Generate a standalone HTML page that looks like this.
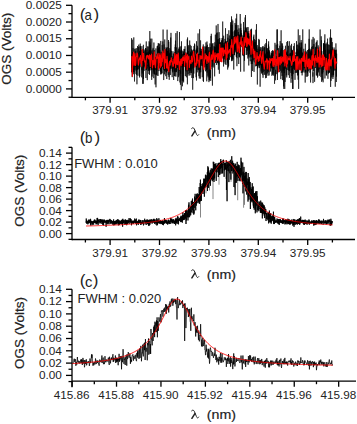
<!DOCTYPE html>
<html><head><meta charset="utf-8"><style>
html,body{margin:0;padding:0;background:#fff;width:357px;height:424px;overflow:hidden;}
svg{display:block;}
</style></head><body>
<svg width="357" height="424" viewBox="0 0 357 424" font-family='"Liberation Sans", sans-serif' fill="#222"><line x1="72.00" y1="5.30" x2="72.00" y2="97.95" stroke="#000" stroke-width="1.3"/>
<line x1="66.00" y1="88.90" x2="72.00" y2="88.90" stroke="#000" stroke-width="1.3"/>
<line x1="66.00" y1="72.18" x2="72.00" y2="72.18" stroke="#000" stroke-width="1.3"/>
<line x1="66.00" y1="55.46" x2="72.00" y2="55.46" stroke="#000" stroke-width="1.3"/>
<line x1="66.00" y1="38.74" x2="72.00" y2="38.74" stroke="#000" stroke-width="1.3"/>
<line x1="66.00" y1="22.02" x2="72.00" y2="22.02" stroke="#000" stroke-width="1.3"/>
<line x1="66.00" y1="5.30" x2="72.00" y2="5.30" stroke="#000" stroke-width="1.3"/>
<line x1="68.50" y1="80.54" x2="72.00" y2="80.54" stroke="#000" stroke-width="1.3"/>
<line x1="68.50" y1="63.82" x2="72.00" y2="63.82" stroke="#000" stroke-width="1.3"/>
<line x1="68.50" y1="47.10" x2="72.00" y2="47.10" stroke="#000" stroke-width="1.3"/>
<line x1="68.50" y1="30.38" x2="72.00" y2="30.38" stroke="#000" stroke-width="1.3"/>
<line x1="68.50" y1="13.66" x2="72.00" y2="13.66" stroke="#000" stroke-width="1.3"/>
<line x1="68.50" y1="97.26" x2="72.00" y2="97.26" stroke="#000" stroke-width="1.3"/>
<line x1="72.00" y1="97.30" x2="355.00" y2="97.30" stroke="#000" stroke-width="1.3"/>
<line x1="110.10" y1="97.30" x2="110.10" y2="102.80" stroke="#000" stroke-width="1.3"/>
<line x1="159.50" y1="97.30" x2="159.50" y2="102.80" stroke="#000" stroke-width="1.3"/>
<line x1="208.90" y1="97.30" x2="208.90" y2="102.80" stroke="#000" stroke-width="1.3"/>
<line x1="258.30" y1="97.30" x2="258.30" y2="102.80" stroke="#000" stroke-width="1.3"/>
<line x1="307.70" y1="97.30" x2="307.70" y2="102.80" stroke="#000" stroke-width="1.3"/>
<line x1="85.40" y1="97.30" x2="85.40" y2="100.30" stroke="#000" stroke-width="1.3"/>
<line x1="134.80" y1="97.30" x2="134.80" y2="100.30" stroke="#000" stroke-width="1.3"/>
<line x1="184.20" y1="97.30" x2="184.20" y2="100.30" stroke="#000" stroke-width="1.3"/>
<line x1="233.60" y1="97.30" x2="233.60" y2="100.30" stroke="#000" stroke-width="1.3"/>
<line x1="283.00" y1="97.30" x2="283.00" y2="100.30" stroke="#000" stroke-width="1.3"/>
<line x1="332.40" y1="97.30" x2="332.40" y2="100.30" stroke="#000" stroke-width="1.3"/>
<text x="110.10" y="114.30" font-size="11.7" text-anchor="middle" >379.91</text>
<text x="159.50" y="114.30" font-size="11.7" text-anchor="middle" >379.92</text>
<text x="208.90" y="114.30" font-size="11.7" text-anchor="middle" >379.93</text>
<text x="258.30" y="114.30" font-size="11.7" text-anchor="middle" >379.94</text>
<text x="307.70" y="114.30" font-size="11.7" text-anchor="middle" >379.95</text>
<text x="61.90" y="92.50" font-size="11.8" text-anchor="end" >0.0000</text>
<text x="61.90" y="75.78" font-size="11.8" text-anchor="end" >0.0005</text>
<text x="61.90" y="59.06" font-size="11.8" text-anchor="end" >0.0010</text>
<text x="61.90" y="42.34" font-size="11.8" text-anchor="end" >0.0015</text>
<text x="61.90" y="25.62" font-size="11.8" text-anchor="end" >0.0020</text>
<text x="61.90" y="8.90" font-size="11.8" text-anchor="end" >0.0025</text>
<line x1="72.00" y1="147.35" x2="72.00" y2="240.15" stroke="#000" stroke-width="1.3"/>
<line x1="66.00" y1="233.60" x2="72.00" y2="233.60" stroke="#000" stroke-width="1.3"/>
<line x1="66.00" y1="222.10" x2="72.00" y2="222.10" stroke="#000" stroke-width="1.3"/>
<line x1="66.00" y1="210.60" x2="72.00" y2="210.60" stroke="#000" stroke-width="1.3"/>
<line x1="66.00" y1="199.10" x2="72.00" y2="199.10" stroke="#000" stroke-width="1.3"/>
<line x1="66.00" y1="187.60" x2="72.00" y2="187.60" stroke="#000" stroke-width="1.3"/>
<line x1="66.00" y1="176.10" x2="72.00" y2="176.10" stroke="#000" stroke-width="1.3"/>
<line x1="66.00" y1="164.60" x2="72.00" y2="164.60" stroke="#000" stroke-width="1.3"/>
<line x1="66.00" y1="153.10" x2="72.00" y2="153.10" stroke="#000" stroke-width="1.3"/>
<line x1="68.50" y1="227.85" x2="72.00" y2="227.85" stroke="#000" stroke-width="1.3"/>
<line x1="68.50" y1="216.35" x2="72.00" y2="216.35" stroke="#000" stroke-width="1.3"/>
<line x1="68.50" y1="204.85" x2="72.00" y2="204.85" stroke="#000" stroke-width="1.3"/>
<line x1="68.50" y1="193.35" x2="72.00" y2="193.35" stroke="#000" stroke-width="1.3"/>
<line x1="68.50" y1="181.85" x2="72.00" y2="181.85" stroke="#000" stroke-width="1.3"/>
<line x1="68.50" y1="170.35" x2="72.00" y2="170.35" stroke="#000" stroke-width="1.3"/>
<line x1="68.50" y1="158.85" x2="72.00" y2="158.85" stroke="#000" stroke-width="1.3"/>
<line x1="68.50" y1="147.35" x2="72.00" y2="147.35" stroke="#000" stroke-width="1.3"/>
<line x1="68.50" y1="239.35" x2="72.00" y2="239.35" stroke="#000" stroke-width="1.3"/>
<line x1="72.00" y1="239.50" x2="355.00" y2="239.50" stroke="#000" stroke-width="1.3"/>
<line x1="110.10" y1="239.50" x2="110.10" y2="245.00" stroke="#000" stroke-width="1.3"/>
<line x1="159.50" y1="239.50" x2="159.50" y2="245.00" stroke="#000" stroke-width="1.3"/>
<line x1="208.90" y1="239.50" x2="208.90" y2="245.00" stroke="#000" stroke-width="1.3"/>
<line x1="258.30" y1="239.50" x2="258.30" y2="245.00" stroke="#000" stroke-width="1.3"/>
<line x1="307.70" y1="239.50" x2="307.70" y2="245.00" stroke="#000" stroke-width="1.3"/>
<line x1="85.40" y1="239.50" x2="85.40" y2="242.50" stroke="#000" stroke-width="1.3"/>
<line x1="134.80" y1="239.50" x2="134.80" y2="242.50" stroke="#000" stroke-width="1.3"/>
<line x1="184.20" y1="239.50" x2="184.20" y2="242.50" stroke="#000" stroke-width="1.3"/>
<line x1="233.60" y1="239.50" x2="233.60" y2="242.50" stroke="#000" stroke-width="1.3"/>
<line x1="283.00" y1="239.50" x2="283.00" y2="242.50" stroke="#000" stroke-width="1.3"/>
<line x1="332.40" y1="239.50" x2="332.40" y2="242.50" stroke="#000" stroke-width="1.3"/>
<text x="110.10" y="256.50" font-size="11.7" text-anchor="middle" >379.91</text>
<text x="159.50" y="256.50" font-size="11.7" text-anchor="middle" >379.92</text>
<text x="208.90" y="256.50" font-size="11.7" text-anchor="middle" >379.93</text>
<text x="258.30" y="256.50" font-size="11.7" text-anchor="middle" >379.94</text>
<text x="307.70" y="256.50" font-size="11.7" text-anchor="middle" >379.95</text>
<text x="61.90" y="237.80" font-size="11.8" text-anchor="end" >0.00</text>
<text x="61.90" y="226.30" font-size="11.8" text-anchor="end" >0.02</text>
<text x="61.90" y="214.80" font-size="11.8" text-anchor="end" >0.04</text>
<text x="61.90" y="203.30" font-size="11.8" text-anchor="end" >0.06</text>
<text x="61.90" y="191.80" font-size="11.8" text-anchor="end" >0.08</text>
<text x="61.90" y="180.30" font-size="11.8" text-anchor="end" >0.10</text>
<text x="61.90" y="168.80" font-size="11.8" text-anchor="end" >0.12</text>
<text x="61.90" y="157.30" font-size="11.8" text-anchor="end" >0.14</text>
<line x1="72.00" y1="289.30" x2="72.00" y2="387.15" stroke="#000" stroke-width="1.3"/>
<line x1="66.00" y1="375.40" x2="72.00" y2="375.40" stroke="#000" stroke-width="1.3"/>
<line x1="66.00" y1="363.10" x2="72.00" y2="363.10" stroke="#000" stroke-width="1.3"/>
<line x1="66.00" y1="350.80" x2="72.00" y2="350.80" stroke="#000" stroke-width="1.3"/>
<line x1="66.00" y1="338.50" x2="72.00" y2="338.50" stroke="#000" stroke-width="1.3"/>
<line x1="66.00" y1="326.20" x2="72.00" y2="326.20" stroke="#000" stroke-width="1.3"/>
<line x1="66.00" y1="313.90" x2="72.00" y2="313.90" stroke="#000" stroke-width="1.3"/>
<line x1="66.00" y1="301.60" x2="72.00" y2="301.60" stroke="#000" stroke-width="1.3"/>
<line x1="66.00" y1="289.30" x2="72.00" y2="289.30" stroke="#000" stroke-width="1.3"/>
<line x1="68.50" y1="369.25" x2="72.00" y2="369.25" stroke="#000" stroke-width="1.3"/>
<line x1="68.50" y1="356.95" x2="72.00" y2="356.95" stroke="#000" stroke-width="1.3"/>
<line x1="68.50" y1="344.65" x2="72.00" y2="344.65" stroke="#000" stroke-width="1.3"/>
<line x1="68.50" y1="332.35" x2="72.00" y2="332.35" stroke="#000" stroke-width="1.3"/>
<line x1="68.50" y1="320.05" x2="72.00" y2="320.05" stroke="#000" stroke-width="1.3"/>
<line x1="68.50" y1="307.75" x2="72.00" y2="307.75" stroke="#000" stroke-width="1.3"/>
<line x1="68.50" y1="295.45" x2="72.00" y2="295.45" stroke="#000" stroke-width="1.3"/>
<line x1="68.50" y1="381.55" x2="72.00" y2="381.55" stroke="#000" stroke-width="1.3"/>
<line x1="72.00" y1="381.20" x2="356.00" y2="381.20" stroke="#000" stroke-width="1.3"/>
<line x1="72.10" y1="381.20" x2="72.10" y2="386.70" stroke="#000" stroke-width="1.3"/>
<line x1="116.53" y1="381.20" x2="116.53" y2="386.70" stroke="#000" stroke-width="1.3"/>
<line x1="160.96" y1="381.20" x2="160.96" y2="386.70" stroke="#000" stroke-width="1.3"/>
<line x1="205.39" y1="381.20" x2="205.39" y2="386.70" stroke="#000" stroke-width="1.3"/>
<line x1="249.82" y1="381.20" x2="249.82" y2="386.70" stroke="#000" stroke-width="1.3"/>
<line x1="294.25" y1="381.20" x2="294.25" y2="386.70" stroke="#000" stroke-width="1.3"/>
<line x1="338.68" y1="381.20" x2="338.68" y2="386.70" stroke="#000" stroke-width="1.3"/>
<line x1="94.31" y1="381.20" x2="94.31" y2="384.20" stroke="#000" stroke-width="1.3"/>
<line x1="138.74" y1="381.20" x2="138.74" y2="384.20" stroke="#000" stroke-width="1.3"/>
<line x1="183.18" y1="381.20" x2="183.18" y2="384.20" stroke="#000" stroke-width="1.3"/>
<line x1="227.60" y1="381.20" x2="227.60" y2="384.20" stroke="#000" stroke-width="1.3"/>
<line x1="272.03" y1="381.20" x2="272.03" y2="384.20" stroke="#000" stroke-width="1.3"/>
<line x1="316.47" y1="381.20" x2="316.47" y2="384.20" stroke="#000" stroke-width="1.3"/>
<text x="71.70" y="398.70" font-size="11.7" text-anchor="middle" >415.86</text>
<text x="116.13" y="398.70" font-size="11.7" text-anchor="middle" >415.88</text>
<text x="160.56" y="398.70" font-size="11.7" text-anchor="middle" >415.90</text>
<text x="204.99" y="398.70" font-size="11.7" text-anchor="middle" >415.92</text>
<text x="249.42" y="398.70" font-size="11.7" text-anchor="middle" >415.94</text>
<text x="293.85" y="398.70" font-size="11.7" text-anchor="middle" >415.96</text>
<text x="338.28" y="398.70" font-size="11.7" text-anchor="middle" >415.98</text>
<text x="61.90" y="379.20" font-size="11.8" text-anchor="end" >0.00</text>
<text x="61.90" y="366.90" font-size="11.8" text-anchor="end" >0.02</text>
<text x="61.90" y="354.60" font-size="11.8" text-anchor="end" >0.04</text>
<text x="61.90" y="342.30" font-size="11.8" text-anchor="end" >0.06</text>
<text x="61.90" y="330.00" font-size="11.8" text-anchor="end" >0.08</text>
<text x="61.90" y="317.70" font-size="11.8" text-anchor="end" >0.10</text>
<text x="61.90" y="305.40" font-size="11.8" text-anchor="end" >0.12</text>
<text x="61.90" y="293.10" font-size="11.8" text-anchor="end" >0.14</text>
<text x="79.80" y="19.80" font-size="17.0" text-anchor="start" >(</text>
<text x="84.60" y="19.90" font-size="14.6" text-anchor="start" textLength="7.4" lengthAdjust="spacingAndGlyphs">a</text>
<text x="93.60" y="19.80" font-size="17.0" text-anchor="start" >)</text>
<text x="79.80" y="143.10" font-size="17.0" text-anchor="start" >(</text>
<text x="85.00" y="143.20" font-size="14.6" text-anchor="start" textLength="7.4" lengthAdjust="spacingAndGlyphs">b</text>
<text x="94.50" y="143.10" font-size="17.0" text-anchor="start" >)</text>
<text x="79.80" y="286.40" font-size="17.0" text-anchor="start" >(</text>
<text x="84.90" y="286.50" font-size="14.6" text-anchor="start" textLength="7.4" lengthAdjust="spacingAndGlyphs">c</text>
<text x="92.80" y="286.40" font-size="17.0" text-anchor="start" >)</text>
<text x="74.20" y="167.90" font-size="12.0" text-anchor="start" textLength="83.6" lengthAdjust="spacingAndGlyphs">FWHM : 0.010</text>
<text x="77.60" y="303.10" font-size="12.0" text-anchor="start" textLength="83.6" lengthAdjust="spacingAndGlyphs">FWHM : 0.020</text>
<g transform="translate(0,0.00)" fill="none" stroke="#222" stroke-linecap="round"><path d="M191.6,128.4 C192.3,127.4 193.6,127.5 194.3,128.9 L196.3,133.8 C196.9,135.5 197.8,136.3 198.7,134.7" stroke-width="1.0"/><path d="M194.9,131.2 L191.9,135.9" stroke-width="1.5"/></g>
<text x="206.80" y="136.90" font-size="13.2" text-anchor="start" stroke="#222" stroke-width="0.18" textLength="29.2" lengthAdjust="spacingAndGlyphs">(nm)</text>
<g transform="translate(0,142.00)" fill="none" stroke="#222" stroke-linecap="round"><path d="M191.6,128.4 C192.3,127.4 193.6,127.5 194.3,128.9 L196.3,133.8 C196.9,135.5 197.8,136.3 198.7,134.7" stroke-width="1.0"/><path d="M194.9,131.2 L191.9,135.9" stroke-width="1.5"/></g>
<text x="206.80" y="278.90" font-size="13.2" text-anchor="start" stroke="#222" stroke-width="0.18" textLength="29.2" lengthAdjust="spacingAndGlyphs">(nm)</text>
<g transform="translate(0,282.40)" fill="none" stroke="#222" stroke-linecap="round"><path d="M191.6,128.4 C192.3,127.4 193.6,127.5 194.3,128.9 L196.3,133.8 C196.9,135.5 197.8,136.3 198.7,134.7" stroke-width="1.0"/><path d="M194.9,131.2 L191.9,135.9" stroke-width="1.5"/></g>
<text x="206.80" y="419.30" font-size="13.2" text-anchor="start" stroke="#222" stroke-width="0.18" textLength="29.2" lengthAdjust="spacingAndGlyphs">(nm)</text>
<text x="0" y="0" font-size="12.6" text-anchor="middle" textLength="72" lengthAdjust="spacingAndGlyphs" stroke="#222" stroke-width="0.2" transform="translate(11.30,48.80) rotate(-90)">OGS (Volts)</text>
<text x="0" y="0" font-size="12.6" text-anchor="middle" textLength="72" lengthAdjust="spacingAndGlyphs" stroke="#222" stroke-width="0.2" transform="translate(23.80,190.70) rotate(-90)">OGS (Volts)</text>
<text x="0" y="0" font-size="12.6" text-anchor="middle" textLength="72" lengthAdjust="spacingAndGlyphs" stroke="#222" stroke-width="0.2" transform="translate(24.20,333.00) rotate(-90)">OGS (Volts)</text>
<polyline points="131.50,72.52 131.58,38.17 131.66,67.71 131.74,62.39 131.82,60.80 131.89,66.58 131.97,72.03 132.05,54.50 132.13,57.00 132.21,77.12 132.29,39.73 132.37,51.72 132.45,66.74 132.53,52.30 132.61,64.20 132.68,60.67 132.76,53.28 132.84,71.07 132.92,55.13 133.00,47.98 133.08,48.65 133.16,62.75 133.24,52.29 133.32,74.24 133.39,61.52 133.47,56.23 133.55,71.82 133.63,60.85 133.71,45.15 133.79,37.38 133.87,53.38 133.95,52.94 134.03,68.48 134.11,70.66 134.18,72.42 134.26,55.43 134.34,53.60 134.42,65.87 134.50,81.51 134.58,57.90 134.66,57.42 134.74,61.28 134.82,49.10 134.89,60.95 134.97,60.72 135.05,69.78 135.13,58.96 135.21,48.43 135.29,59.61 135.37,59.53 135.45,56.37 135.53,57.73 135.61,55.53 135.68,50.81 135.76,54.77 135.84,67.05 135.92,57.53 136.00,74.08 136.08,57.82 136.16,71.11 136.24,60.76 136.32,56.02 136.40,63.75 136.47,58.44 136.55,74.40 136.63,75.05 136.71,48.17 136.79,70.18 136.87,54.49 136.95,84.28 137.03,68.03 137.11,69.67 137.18,60.08 137.26,55.50 137.34,69.41 137.42,61.72 137.50,46.04 137.58,62.90 137.66,67.23 137.74,56.78 137.82,62.09 137.90,72.34 137.97,75.75 138.05,53.03 138.13,65.11 138.21,60.13 138.29,69.39 138.37,48.82 138.45,47.14 138.53,51.61 138.61,61.10 138.68,56.07 138.76,44.66 138.84,51.25 138.92,57.43 139.00,60.68 139.08,63.27 139.16,66.65 139.24,68.54 139.32,57.01 139.40,62.27 139.47,77.49 139.55,61.49 139.63,50.89 139.71,62.53 139.79,76.26 139.87,62.30 139.95,46.49 140.03,58.39 140.11,63.86 140.18,44.07 140.26,43.62 140.34,61.00 140.42,46.00 140.50,56.73 140.58,53.35 140.66,47.51 140.74,53.01 140.82,58.62 140.90,65.82 140.97,67.20 141.05,60.36 141.13,50.07 141.21,54.92 141.29,59.68 141.37,57.91 141.45,59.83 141.53,55.38 141.61,69.91 141.68,77.32 141.76,67.53 141.84,70.13 141.92,46.10 142.00,61.52 142.08,62.34 142.16,73.52 142.24,57.69 142.32,65.56 142.40,50.39 142.47,52.83 142.55,66.89 142.63,56.57 142.71,83.81 142.79,66.00 142.87,49.31 142.95,53.27 143.03,58.62 143.11,60.65 143.19,72.48 143.26,83.79 143.34,58.20 143.42,44.82 143.50,79.02 143.58,54.68 143.66,54.92 143.74,51.88 143.82,67.70 143.90,64.74 143.97,59.75 144.05,69.08 144.13,70.83 144.21,67.82 144.29,60.76 144.37,56.89 144.45,60.36 144.53,59.47 144.61,66.09 144.69,66.41 144.76,50.40 144.84,60.62 144.92,61.58 145.00,52.00 145.08,49.37 145.16,49.08 145.24,56.61 145.32,60.58 145.40,57.63 145.47,58.58 145.55,47.99 145.63,57.60 145.71,54.59 145.79,60.39 145.87,48.22 145.95,77.99 146.03,56.83 146.11,53.58 146.19,70.22 146.26,41.45 146.34,61.45 146.42,61.54 146.50,69.53 146.58,52.51 146.66,56.24 146.74,65.29 146.82,58.18 146.90,54.18 146.97,49.58 147.05,58.27 147.13,68.53 147.21,64.98 147.29,80.13 147.37,66.51 147.45,53.74 147.53,56.10 147.61,61.08 147.69,63.11 147.76,46.37 147.84,55.24 147.92,52.24 148.00,53.27 148.08,65.96 148.16,46.62 148.24,70.91 148.32,70.54 148.40,63.88 148.47,66.49 148.55,64.99 148.63,65.36 148.71,51.57 148.79,59.67 148.87,57.09 148.95,73.95 149.03,67.51 149.11,41.29 149.19,70.61 149.26,49.90 149.34,69.11 149.42,57.54 149.50,74.86 149.58,58.44 149.66,67.97 149.74,62.38 149.82,31.06 149.90,63.41 149.98,42.44 150.05,68.13 150.13,70.37 150.21,59.50 150.29,63.70 150.37,44.88 150.45,52.66 150.53,49.88 150.61,54.66 150.69,38.66 150.76,53.24 150.84,55.53 150.92,67.36 151.00,68.06 151.08,58.55 151.16,51.48 151.24,50.44 151.32,68.36 151.40,55.53 151.48,58.47 151.55,69.87 151.63,55.70 151.71,79.89 151.79,57.86 151.87,38.67 151.95,69.02 152.03,59.99 152.11,76.62 152.19,66.72 152.26,53.58 152.34,69.22 152.42,60.45 152.50,66.33 152.58,63.44 152.66,58.50 152.74,55.94 152.82,49.46 152.90,52.91 152.98,65.07 153.05,47.86 153.13,49.30 153.21,73.71 153.29,54.37 153.37,52.98 153.45,51.76 153.53,55.40 153.61,71.44 153.69,62.49 153.76,78.16 153.84,61.53 153.92,42.52 154.00,54.23 154.08,52.89 154.16,64.63 154.24,68.99 154.32,69.47 154.40,59.09 154.48,74.13 154.55,65.71 154.63,50.21 154.71,74.43 154.79,71.59 154.87,64.60 154.95,61.03 155.03,61.29 155.11,84.45 155.19,58.48 155.26,61.29 155.34,57.09 155.42,69.58 155.50,58.04 155.58,58.25 155.66,65.91 155.74,62.07 155.82,65.01 155.90,48.38 155.98,87.30 156.05,72.76 156.13,75.01 156.21,63.46 156.29,66.07 156.37,63.75 156.45,53.93 156.53,74.37 156.61,67.53 156.69,62.12 156.77,70.63 156.84,56.96 156.92,57.31 157.00,66.36 157.08,75.58 157.16,46.27 157.24,56.09 157.32,56.50 157.40,59.56 157.48,60.25 157.55,45.74 157.63,60.33 157.71,65.68 157.79,54.02 157.87,59.15 157.95,66.91 158.03,75.95 158.11,50.06 158.19,54.71 158.27,43.02 158.34,64.78 158.42,66.66 158.50,56.69 158.58,48.21 158.66,55.01 158.74,56.44 158.82,43.80 158.90,66.67 158.98,71.06 159.05,66.68 159.13,62.96 159.21,56.97 159.29,51.33 159.37,53.16 159.45,46.97 159.53,67.41 159.61,43.65 159.69,67.28 159.77,50.04 159.84,68.38 159.92,54.25 160.00,59.78 160.08,55.73 160.16,53.69 160.24,62.08 160.32,60.81 160.40,58.15 160.48,71.58 160.55,66.59 160.63,74.36 160.71,60.19 160.79,40.92 160.87,47.35 160.95,67.77 161.03,66.40 161.11,51.76 161.19,64.37 161.27,74.24 161.34,69.15 161.42,69.42 161.50,69.14 161.58,54.38 161.66,59.65 161.74,73.20 161.82,64.96 161.90,70.16 161.98,70.77 162.05,73.37 162.13,45.08 162.21,62.95 162.29,55.27 162.37,52.73 162.45,66.96 162.53,55.63 162.61,55.58 162.69,58.35 162.77,41.43 162.84,57.82 162.92,62.28 163.00,54.68 163.08,29.53 163.16,51.66 163.24,64.46 163.32,67.77 163.40,68.40 163.48,66.07 163.56,56.95 163.63,52.96 163.71,80.06 163.79,60.48 163.87,69.93 163.95,54.39 164.03,44.43 164.11,67.10 164.19,64.24 164.27,68.61 164.34,56.94 164.42,74.34 164.50,70.13 164.58,66.30 164.66,49.69 164.74,39.47 164.82,60.19 164.90,71.07 164.98,59.72 165.06,67.93 165.13,56.37 165.21,70.06 165.29,63.59 165.37,60.50 165.45,55.86 165.53,61.06 165.61,49.39 165.69,58.24 165.77,76.17 165.84,52.37 165.92,62.94 166.00,72.06 166.08,47.30 166.16,69.06 166.24,59.79 166.32,66.62 166.40,48.67 166.48,63.60 166.56,58.39 166.63,72.54 166.71,47.97 166.79,79.04 166.87,52.54 166.95,50.77 167.03,49.74 167.11,29.70 167.19,70.65 167.27,56.98 167.34,59.28 167.42,56.83 167.50,50.93 167.58,59.54 167.66,67.59 167.74,61.34 167.82,47.12 167.90,70.76 167.98,59.82 168.06,69.05 168.13,50.88 168.21,74.85 168.29,63.49 168.37,62.69 168.45,59.52 168.53,40.01 168.61,47.02 168.69,69.50 168.77,41.78 168.84,70.93 168.92,76.83 169.00,73.60 169.08,58.80 169.16,55.93 169.24,79.81 169.32,56.80 169.40,62.91 169.48,54.46 169.56,63.95 169.63,52.78 169.71,55.71 169.79,70.81 169.87,48.05 169.95,56.93 170.03,54.29 170.11,49.67 170.19,69.12 170.27,61.39 170.35,74.94 170.42,68.85 170.50,58.35 170.58,57.72 170.66,37.52 170.74,48.63 170.82,60.87 170.90,67.97 170.98,32.87 171.06,42.03 171.13,61.64 171.21,68.80 171.29,64.40 171.37,58.28 171.45,50.89 171.53,52.31 171.61,56.96 171.69,62.90 171.77,57.83 171.85,63.46 171.92,60.15 172.00,61.67 172.08,56.21 172.16,77.15 172.24,66.80 172.32,63.33 172.40,70.63 172.48,62.31 172.56,69.97 172.63,72.37 172.71,63.34 172.79,63.03 172.87,65.82 172.95,51.24 173.03,59.10 173.11,58.05 173.19,58.83 173.27,66.67 173.35,68.55 173.42,53.57 173.50,63.95 173.58,76.28 173.66,80.01 173.74,58.97 173.82,67.31 173.90,61.50 173.98,65.67 174.06,64.46 174.13,62.43 174.21,71.78 174.29,61.10 174.37,52.37 174.45,54.90 174.53,76.08 174.61,72.63 174.69,72.56 174.77,63.13 174.85,53.55 174.92,58.18 175.00,76.24 175.08,60.52 175.16,46.96 175.24,64.91 175.32,44.46 175.40,66.69 175.48,40.64 175.56,40.59 175.63,72.14 175.71,63.86 175.79,56.05 175.87,33.14 175.95,76.61 176.03,56.15 176.11,58.60 176.19,64.75 176.27,68.34 176.35,65.66 176.42,63.73 176.50,72.14 176.58,47.41 176.66,70.75 176.74,64.84 176.82,66.88 176.90,64.72 176.98,59.52 177.06,67.73 177.14,63.20 177.21,31.17 177.29,42.79 177.37,63.67 177.45,53.28 177.53,67.86 177.61,59.21 177.69,73.60 177.77,81.08 177.85,68.73 177.92,50.44 178.00,59.20 178.08,56.45 178.16,59.90 178.24,58.03 178.32,57.58 178.40,54.58 178.48,59.83 178.56,77.17 178.64,68.12 178.71,50.69 178.79,48.98 178.87,56.39 178.95,75.56 179.03,47.57 179.11,58.46 179.19,61.92 179.27,61.11 179.35,64.52 179.42,46.00 179.50,32.03 179.58,70.56 179.66,62.95 179.74,58.67 179.82,50.22 179.90,82.44 179.98,53.23 180.06,46.82 180.14,64.23 180.21,61.78 180.29,50.52 180.37,58.14 180.45,84.75 180.53,71.62 180.61,70.43 180.69,73.80 180.77,61.53 180.85,66.00 180.92,61.13 181.00,55.34 181.08,45.94 181.16,59.61 181.24,90.13 181.32,49.39 181.40,62.54 181.48,41.35 181.56,65.44 181.64,58.88 181.71,62.70 181.79,61.76 181.87,50.42 181.95,67.24 182.03,60.11 182.11,59.63 182.19,64.93 182.27,80.72 182.35,58.52 182.42,86.28 182.50,74.65 182.58,65.57 182.66,57.82 182.74,54.06 182.82,54.35 182.90,56.37 182.98,64.73 183.06,50.98 183.14,66.36 183.21,51.80 183.29,81.04 183.37,69.87 183.45,66.58 183.53,61.58 183.61,82.40 183.69,54.48 183.77,52.94 183.85,54.71 183.93,66.06 184.00,48.90 184.08,66.33 184.16,53.66 184.24,62.07 184.32,61.73 184.40,62.91 184.48,61.75 184.56,51.88 184.64,49.03 184.71,49.13 184.79,53.65 184.87,55.74 184.95,57.62 185.03,46.24 185.11,65.40 185.19,67.07 185.27,60.85 185.35,76.07 185.43,63.61 185.50,62.06 185.58,70.49 185.66,66.57 185.74,55.50 185.82,63.55 185.90,60.88 185.98,52.54 186.06,66.88 186.14,71.49 186.21,61.90 186.29,57.84 186.37,77.30 186.45,55.81 186.53,64.26 186.61,68.85 186.69,69.01 186.77,63.12 186.85,53.12 186.93,56.91 187.00,54.44 187.08,64.66 187.16,47.61 187.24,39.36 187.32,61.62 187.40,84.31 187.48,60.91 187.56,37.46 187.64,61.91 187.71,70.30 187.79,46.57 187.87,66.76 187.95,57.09 188.03,54.73 188.11,74.19 188.19,60.27 188.27,50.98 188.35,64.21 188.43,55.66 188.50,61.54 188.58,52.39 188.66,45.22 188.74,70.88 188.82,63.81 188.90,57.87 188.98,66.80 189.06,75.70 189.14,64.30 189.21,66.01 189.29,66.97 189.37,58.41 189.45,54.23 189.53,54.76 189.61,55.32 189.69,40.49 189.77,73.10 189.85,62.23 189.93,59.56 190.00,56.63 190.08,75.25 190.16,44.84 190.24,68.93 190.32,58.88 190.40,54.76 190.48,51.71 190.56,67.12 190.64,70.57 190.72,57.92 190.79,56.03 190.87,53.20 190.95,61.61 191.03,67.15 191.11,72.71 191.19,45.92 191.27,73.03 191.35,54.99 191.43,58.64 191.50,54.43 191.58,52.75 191.66,49.30 191.74,61.53 191.82,57.56 191.90,78.00 191.98,60.60 192.06,68.88 192.14,62.32 192.22,50.21 192.29,60.03 192.37,51.46 192.45,62.69 192.53,57.45 192.61,68.07 192.69,89.71 192.77,67.11 192.85,63.21 192.93,58.10 193.00,60.85 193.08,63.01 193.16,52.60 193.24,55.40 193.32,67.69 193.40,53.24 193.48,78.08 193.56,63.25 193.64,62.07 193.72,49.44 193.79,65.42 193.87,73.55 193.95,59.20 194.03,46.00 194.11,62.53 194.19,61.55 194.27,62.46 194.35,60.22 194.43,49.33 194.50,43.57 194.58,56.53 194.66,61.52 194.74,44.49 194.82,59.73 194.90,59.31 194.98,66.66 195.06,63.29 195.14,58.44 195.22,63.02 195.29,56.88 195.37,59.70 195.45,55.66 195.53,63.79 195.61,62.20 195.69,58.33 195.77,59.85 195.85,59.56 195.93,50.25 196.00,69.73 196.08,77.28 196.16,54.08 196.24,62.48 196.32,48.63 196.40,61.10 196.48,80.53 196.56,41.26 196.64,56.84 196.72,64.25 196.79,66.84 196.87,50.39 196.95,66.17 197.03,56.89 197.11,50.15 197.19,72.34 197.27,63.35 197.35,56.07 197.43,45.79 197.51,52.14 197.58,64.17 197.66,47.49 197.74,63.31 197.82,61.60 197.90,56.89 197.98,69.69 198.06,33.43 198.14,49.73 198.22,58.23 198.29,65.07 198.37,70.19 198.45,56.88 198.53,54.06 198.61,63.55 198.69,61.77 198.77,55.22 198.85,60.58 198.93,76.18 199.01,54.25 199.08,55.72 199.16,53.67 199.24,66.57 199.32,78.47 199.40,70.84 199.48,57.38 199.56,29.26 199.64,29.25 199.72,57.31 199.79,72.60 199.87,62.84 199.95,56.02 200.03,56.10 200.11,59.06 200.19,48.23 200.27,67.68 200.35,78.68 200.43,67.47 200.51,69.93 200.58,40.39 200.66,61.42 200.74,72.20 200.82,54.41 200.90,51.01 200.98,58.78 201.06,58.06 201.14,50.82 201.22,55.23 201.29,65.78 201.37,54.56 201.45,51.59 201.53,53.67 201.61,52.05 201.69,54.54 201.77,61.67 201.85,60.88 201.93,48.88 202.01,64.39 202.08,49.55 202.16,48.95 202.24,77.21 202.32,60.13 202.40,66.04 202.48,65.01 202.56,58.22 202.64,60.94 202.72,54.55 202.79,56.65 202.87,56.21 202.95,66.22 203.03,62.43 203.11,46.70 203.19,80.93 203.27,44.42 203.35,64.22 203.43,49.07 203.51,81.88 203.58,62.94 203.66,51.91 203.74,56.65 203.82,50.42 203.90,66.85 203.98,64.09 204.06,64.89 204.14,54.78 204.22,55.16 204.30,60.23 204.37,61.44 204.45,61.67 204.53,58.35 204.61,67.34 204.69,59.57 204.77,60.31 204.85,63.74 204.93,63.98 205.01,46.17 205.08,64.34 205.16,55.40 205.24,47.07 205.32,52.51 205.40,58.75 205.48,50.10 205.56,71.29 205.64,69.58 205.72,62.31 205.80,60.76 205.87,59.66 205.95,42.46 206.03,44.11 206.11,59.10 206.19,56.54 206.27,66.62 206.35,55.94 206.43,70.37 206.51,46.51 206.58,63.18 206.66,53.80 206.74,81.33 206.82,46.51 206.90,53.27 206.98,41.53 207.06,57.96 207.14,72.62 207.22,65.33 207.30,69.41 207.37,44.75 207.45,63.89 207.53,64.98 207.61,53.24 207.69,56.08 207.77,54.09 207.85,62.72 207.93,75.71 208.01,70.14 208.08,77.39 208.16,47.14 208.24,50.34 208.32,61.49 208.40,52.79 208.48,52.34 208.56,52.64 208.64,53.52 208.72,50.44 208.80,57.39 208.87,77.39 208.95,82.13 209.03,47.04 209.11,52.82 209.19,79.86 209.27,56.46 209.35,65.59 209.43,67.45 209.51,80.55 209.58,51.17 209.66,58.60 209.74,50.73 209.82,48.34 209.90,46.58 209.98,43.42 210.06,55.20 210.14,55.83 210.22,63.26 210.30,53.07 210.37,59.73 210.45,78.10 210.53,47.14 210.61,51.35 210.69,80.92 210.77,73.76 210.85,59.41 210.93,69.17 211.01,35.97 211.09,55.80 211.16,52.38 211.24,49.13 211.32,33.79 211.40,59.65 211.48,51.74 211.56,54.96 211.64,50.15 211.72,52.25 211.80,44.63 211.87,52.35 211.95,61.21 212.03,54.74 212.11,66.90 212.19,51.19 212.27,43.69 212.35,62.17 212.43,85.62 212.51,57.52 212.59,61.22 212.66,56.78 212.74,61.92 212.82,56.03 212.90,65.59 212.98,43.06 213.06,58.61 213.14,52.10 213.22,49.91 213.30,57.87 213.37,52.54 213.45,58.64 213.53,60.36 213.61,58.37 213.69,52.11 213.77,67.45 213.85,64.26 213.93,63.32 214.01,61.22 214.09,46.11 214.16,56.48 214.24,58.85 214.32,54.88 214.40,46.83 214.48,62.62 214.56,47.09 214.64,76.36 214.72,63.71 214.80,43.02 214.87,42.28 214.95,54.13 215.03,59.49 215.11,48.52 215.19,62.56 215.27,42.12 215.35,34.61 215.43,48.83 215.51,62.87 215.59,46.96 215.66,57.59 215.74,57.41 215.82,59.01 215.90,56.32 215.98,50.87 216.06,47.80 216.14,47.74 216.22,25.44 216.30,58.02 216.37,44.86 216.45,60.72 216.53,56.58 216.61,64.99 216.69,33.10 216.77,49.64 216.85,53.55 216.93,55.67 217.01,46.54 217.09,58.90 217.16,51.01 217.24,32.46 217.32,55.66 217.40,59.82 217.48,63.16 217.56,39.40 217.64,53.64 217.72,60.76 217.80,61.42 217.88,53.84 217.95,62.81 218.03,23.96 218.11,56.65 218.19,55.50 218.27,54.71 218.35,69.70 218.43,66.50 218.51,56.95 218.59,53.97 218.66,64.53 218.74,38.86 218.82,49.64 218.90,42.30 218.98,43.31 219.06,55.47 219.14,32.18 219.22,52.35 219.30,69.86 219.38,73.75 219.45,53.28 219.53,45.65 219.61,52.60 219.69,38.03 219.77,55.75 219.85,48.17 219.93,46.64 220.01,62.01 220.09,50.30 220.16,49.75 220.24,43.34 220.32,42.29 220.40,44.22 220.48,59.42 220.56,46.34 220.64,43.35 220.72,52.36 220.80,46.09 220.88,45.88 220.95,42.24 221.03,51.85 221.11,48.33 221.19,50.73 221.27,51.83 221.35,57.73 221.43,55.25 221.51,62.07 221.59,53.98 221.66,46.24 221.74,40.78 221.82,45.64 221.90,53.44 221.98,39.97 222.06,56.01 222.14,38.04 222.22,44.08 222.30,58.40 222.38,58.00 222.45,38.22 222.53,50.51 222.61,49.37 222.69,21.54 222.77,46.71 222.85,50.54 222.93,45.14 223.01,56.71 223.09,52.96 223.16,43.02 223.24,58.44 223.32,51.18 223.40,52.86 223.48,50.26 223.56,66.50 223.64,35.71 223.72,51.81 223.80,46.24 223.88,59.96 223.95,62.27 224.03,50.64 224.11,53.63 224.19,45.13 224.27,58.75 224.35,59.24 224.43,47.74 224.51,44.51 224.59,42.53 224.67,50.76 224.74,48.17 224.82,57.31 224.90,38.92 224.98,40.41 225.06,40.64 225.14,64.16 225.22,42.54 225.30,56.49 225.38,40.90 225.45,46.33 225.53,28.19 225.61,51.63 225.69,52.91 225.77,58.65 225.85,60.15 225.93,44.78 226.01,64.95 226.09,43.92 226.17,53.01 226.24,54.59 226.32,41.29 226.40,42.12 226.48,58.14 226.56,50.98 226.64,49.55 226.72,43.65 226.80,55.77 226.88,52.97 226.95,50.30 227.03,43.26 227.11,41.47 227.19,53.87 227.27,33.91 227.35,41.24 227.43,55.96 227.51,62.46 227.59,53.28 227.67,69.56 227.74,47.29 227.82,44.00 227.90,37.77 227.98,39.65 228.06,63.55 228.14,51.12 228.22,42.56 228.30,67.41 228.38,55.66 228.45,43.07 228.53,47.97 228.61,65.83 228.69,52.73 228.77,48.12 228.85,30.22 228.93,52.02 229.01,56.04 229.09,45.99 229.17,45.16 229.24,43.08 229.32,35.46 229.40,48.49 229.48,59.78 229.56,47.46 229.64,47.62 229.72,39.32 229.80,40.38 229.88,54.00 229.95,40.90 230.03,38.84 230.11,49.11 230.19,39.21 230.27,45.94 230.35,43.77 230.43,48.57 230.51,40.27 230.59,22.25 230.67,45.17 230.74,57.19 230.82,49.06 230.90,52.06 230.98,40.86 231.06,48.13 231.14,24.85 231.22,40.35 231.30,30.64 231.38,52.87 231.46,49.87 231.53,16.37 231.61,61.16 231.69,45.33 231.77,59.97 231.85,19.30 231.93,58.72 232.01,51.20 232.09,47.90 232.17,60.97 232.24,24.83 232.32,47.70 232.40,31.89 232.48,57.77 232.56,58.85 232.64,41.89 232.72,44.40 232.80,20.63 232.88,55.14 232.96,59.51 233.03,57.75 233.11,43.22 233.19,40.92 233.27,52.27 233.35,48.78 233.43,40.97 233.51,36.21 233.59,50.82 233.67,42.97 233.74,69.60 233.82,53.97 233.90,41.79 233.98,45.58 234.06,47.05 234.14,31.39 234.22,47.88 234.30,54.84 234.38,43.46 234.46,43.45 234.53,55.17 234.61,36.46 234.69,30.31 234.77,50.23 234.85,52.65 234.93,45.74 235.01,22.98 235.09,49.85 235.17,51.26 235.24,50.01 235.32,42.74 235.40,42.93 235.48,46.24 235.56,34.26 235.64,25.11 235.72,49.67 235.80,35.56 235.88,42.21 235.96,18.44 236.03,52.15 236.11,47.46 236.19,24.70 236.27,56.80 236.35,46.19 236.43,38.12 236.51,56.88 236.59,43.15 236.67,13.82 236.74,49.40 236.82,51.98 236.90,66.18 236.98,45.05 237.06,58.24 237.14,39.20 237.22,29.70 237.30,39.13 237.38,50.85 237.46,38.24 237.53,48.00 237.61,53.70 237.69,52.21 237.77,41.73 237.85,46.97 237.93,39.18 238.01,25.07 238.09,38.37 238.17,37.11 238.25,49.46 238.32,32.05 238.40,40.54 238.48,34.80 238.56,50.34 238.64,41.51 238.72,63.99 238.80,46.62 238.88,50.83 238.96,52.22 239.03,28.36 239.11,56.79 239.19,45.77 239.27,44.63 239.35,38.76 239.43,34.58 239.51,57.30 239.59,48.04 239.67,49.44 239.75,37.23 239.82,35.13 239.90,46.83 239.98,47.97 240.06,52.05 240.14,40.04 240.22,14.02 240.30,39.90 240.38,49.29 240.46,50.41 240.53,49.35 240.61,71.68 240.69,28.04 240.77,42.48 240.85,45.98 240.93,23.63 241.01,41.14 241.09,30.15 241.17,40.68 241.25,33.44 241.32,42.38 241.40,46.20 241.48,39.41 241.56,36.74 241.64,33.48 241.72,41.20 241.80,45.11 241.88,46.15 241.96,40.22 242.03,47.14 242.11,45.73 242.19,38.16 242.27,37.76 242.35,38.46 242.43,49.34 242.51,55.38 242.59,37.95 242.67,41.81 242.75,46.10 242.82,40.99 242.90,35.40 242.98,44.53 243.06,39.30 243.14,51.26 243.22,44.67 243.30,49.98 243.38,55.33 243.46,38.96 243.53,22.02 243.61,43.28 243.69,35.97 243.77,39.26 243.85,56.20 243.93,40.63 244.01,71.54 244.09,50.43 244.17,30.27 244.25,41.34 244.32,32.49 244.40,52.26 244.48,60.81 244.56,49.25 244.64,31.58 244.72,34.70 244.80,33.41 244.88,44.00 244.96,43.50 245.04,44.47 245.11,17.49 245.19,41.13 245.27,27.34 245.35,44.25 245.43,18.65 245.51,15.00 245.59,47.10 245.67,39.64 245.75,47.72 245.82,46.32 245.90,44.17 245.98,47.49 246.06,29.30 246.14,32.97 246.22,55.03 246.30,27.96 246.38,43.43 246.46,43.20 246.54,44.41 246.61,35.39 246.69,36.84 246.77,47.63 246.85,42.66 246.93,54.54 247.01,27.04 247.09,50.65 247.17,51.01 247.25,49.57 247.32,40.74 247.40,36.90 247.48,46.57 247.56,42.85 247.64,46.54 247.72,32.42 247.80,41.71 247.88,58.53 247.96,30.98 248.04,40.96 248.11,27.17 248.19,49.35 248.27,48.41 248.35,45.68 248.43,56.47 248.51,50.46 248.59,33.44 248.67,38.35 248.75,65.49 248.82,33.41 248.90,41.56 248.98,37.64 249.06,44.50 249.14,41.32 249.22,44.54 249.30,44.67 249.38,54.24 249.46,36.23 249.54,43.51 249.61,42.13 249.69,39.24 249.77,50.67 249.85,46.29 249.93,57.52 250.01,43.69 250.09,43.66 250.17,48.27 250.25,61.23 250.32,34.75 250.40,47.99 250.48,46.76 250.56,49.40 250.64,51.98 250.72,50.43 250.80,56.69 250.88,52.20 250.96,29.27 251.04,37.04 251.11,30.01 251.19,52.94 251.27,64.11 251.35,59.62 251.43,76.95 251.51,28.78 251.59,37.41 251.67,47.26 251.75,45.02 251.83,45.21 251.90,49.54 251.98,42.29 252.06,57.59 252.14,56.23 252.22,50.26 252.30,63.90 252.38,57.97 252.46,45.52 252.54,46.42 252.61,71.02 252.69,41.69 252.77,46.71 252.85,43.18 252.93,50.56 253.01,44.99 253.09,61.47 253.17,52.20 253.25,59.71 253.33,59.25 253.40,40.46 253.48,36.61 253.56,50.58 253.64,54.84 253.72,44.31 253.80,47.22 253.88,34.63 253.96,40.14 254.04,71.90 254.11,51.12 254.19,54.55 254.27,58.84 254.35,50.78 254.43,51.56 254.51,55.24 254.59,39.17 254.67,49.13 254.75,48.95 254.83,51.20 254.90,42.09 254.98,62.46 255.06,42.37 255.14,55.04 255.22,40.16 255.30,40.82 255.38,48.94 255.46,57.32 255.54,51.02 255.61,50.48 255.69,66.34 255.77,56.57 255.85,59.91 255.93,29.77 256.01,39.25 256.09,60.43 256.17,58.78 256.25,65.75 256.33,52.12 256.40,40.08 256.48,24.12 256.56,65.80 256.64,46.67 256.72,56.11 256.80,61.16 256.88,58.01 256.96,61.71 257.04,51.30 257.11,55.26 257.19,45.05 257.27,60.01 257.35,84.54 257.43,64.18 257.51,52.71 257.59,68.54 257.67,62.33 257.75,51.26 257.83,67.87 257.90,48.74 257.98,53.19 258.06,61.26 258.14,56.65 258.22,60.67 258.30,59.85 258.38,61.92 258.46,56.39 258.54,57.40 258.62,63.14 258.69,65.25 258.77,38.88 258.85,66.42 258.93,58.26 259.01,46.61 259.09,48.47 259.17,63.42 259.25,39.80 259.33,41.93 259.40,60.01 259.48,68.06 259.56,51.93 259.64,59.03 259.72,62.36 259.80,64.55 259.88,62.78 259.96,56.23 260.04,49.91 260.12,86.71 260.19,78.39 260.27,49.48 260.35,65.21 260.43,51.95 260.51,57.04 260.59,47.21 260.67,50.18 260.75,60.51 260.83,59.54 260.90,52.44 260.98,51.78 261.06,63.70 261.14,71.45 261.22,57.45 261.30,58.93 261.38,60.92 261.46,67.10 261.54,53.23 261.62,73.48 261.69,62.74 261.77,47.37 261.85,68.23 261.93,55.03 262.01,54.75 262.09,54.99 262.17,73.24 262.25,49.99 262.33,57.52 262.40,54.52 262.48,56.16 262.56,58.32 262.64,48.28 262.72,46.42 262.80,75.04 262.88,65.68 262.96,60.40 263.04,77.79 263.12,46.29 263.19,72.19 263.27,54.15 263.35,57.16 263.43,60.95 263.51,67.83 263.59,62.24 263.67,58.33 263.75,52.33 263.83,60.92 263.90,62.60 263.98,61.33 264.06,47.91 264.14,56.70 264.22,70.62 264.30,70.18 264.38,62.82 264.46,74.79 264.54,62.93 264.62,47.53 264.69,47.02 264.77,57.36 264.85,55.85 264.93,44.42 265.01,69.24 265.09,55.53 265.17,61.18 265.25,58.20 265.33,58.80 265.41,62.19 265.48,54.76 265.56,78.20 265.64,56.97 265.72,53.60 265.80,67.77 265.88,67.97 265.96,42.98 266.04,74.75 266.12,62.80 266.19,66.23 266.27,64.85 266.35,65.37 266.43,77.84 266.51,38.97 266.59,65.88 266.67,56.31 266.75,60.30 266.83,47.96 266.91,53.64 266.98,49.86 267.06,49.55 267.14,52.40 267.22,59.38 267.30,51.81 267.38,73.45 267.46,52.01 267.54,53.64 267.62,57.08 267.69,71.22 267.77,48.18 267.85,65.54 267.93,54.31 268.01,75.71 268.09,61.28 268.17,65.34 268.25,66.48 268.33,65.51 268.41,44.41 268.48,60.07 268.56,53.64 268.64,41.33 268.72,72.16 268.80,46.57 268.88,63.00 268.96,65.23 269.04,63.35 269.12,75.46 269.19,73.07 269.27,69.63 269.35,64.68 269.43,53.66 269.51,50.45 269.59,63.03 269.67,56.64 269.75,52.11 269.83,61.84 269.91,57.89 269.98,64.97 270.06,55.07 270.14,61.82 270.22,59.54 270.30,57.68 270.38,58.63 270.46,66.09 270.54,71.56 270.62,60.49 270.69,64.81 270.77,64.50 270.85,60.82 270.93,66.06 271.01,56.05 271.09,56.47 271.17,67.71 271.25,53.38 271.33,68.24 271.41,53.70 271.48,54.59 271.56,60.05 271.64,52.26 271.72,51.11 271.80,56.13 271.88,75.83 271.96,58.83 272.04,58.24 272.12,53.01 272.20,68.50 272.27,53.90 272.35,56.95 272.43,56.49 272.51,70.73 272.59,74.86 272.67,50.22 272.75,52.86 272.83,60.74 272.91,50.64 272.98,55.37 273.06,63.64 273.14,73.69 273.22,51.28 273.30,61.27 273.38,58.03 273.46,75.59 273.54,64.76 273.62,57.52 273.70,62.21 273.77,66.45 273.85,69.70 273.93,58.30 274.01,63.28 274.09,63.04 274.17,62.63 274.25,65.72 274.33,62.98 274.41,65.44 274.48,59.89 274.56,83.85 274.64,69.62 274.72,59.92 274.80,61.59 274.88,57.50 274.96,42.84 275.04,53.73 275.12,50.43 275.20,53.02 275.27,61.19 275.35,67.04 275.43,76.20 275.51,72.37 275.59,80.32 275.67,69.84 275.75,73.87 275.83,68.51 275.91,60.36 275.98,63.71 276.06,52.56 276.14,44.70 276.22,51.37 276.30,52.78 276.38,57.88 276.46,64.60 276.54,56.28 276.62,62.32 276.70,61.91 276.77,56.65 276.85,69.58 276.93,74.19 277.01,57.38 277.09,29.60 277.17,50.52 277.25,29.38 277.33,72.24 277.41,65.73 277.48,79.98 277.56,67.58 277.64,43.86 277.72,46.26 277.80,68.91 277.88,62.93 277.96,67.24 278.04,71.74 278.12,62.26 278.20,62.98 278.27,59.35 278.35,57.90 278.43,48.15 278.51,48.32 278.59,60.83 278.67,61.95 278.75,60.08 278.83,56.32 278.91,61.28 278.99,68.66 279.06,64.63 279.14,53.78 279.22,69.00 279.30,53.15 279.38,72.14 279.46,54.90 279.54,55.07 279.62,61.97 279.70,60.35 279.77,62.14 279.85,45.68 279.93,63.92 280.01,66.43 280.09,56.90 280.17,41.07 280.25,57.26 280.33,62.68 280.41,51.34 280.49,66.68 280.56,66.85 280.64,70.79 280.72,49.74 280.80,79.16 280.88,71.23 280.96,55.90 281.04,56.64 281.12,30.26 281.20,52.84 281.27,64.40 281.35,48.26 281.43,50.98 281.51,50.19 281.59,50.98 281.67,55.76 281.75,72.64 281.83,69.21 281.91,43.22 281.99,59.78 282.06,75.96 282.14,59.68 282.22,43.63 282.30,56.77 282.38,60.04 282.46,80.10 282.54,59.65 282.62,61.34 282.70,45.77 282.77,60.14 282.85,60.62 282.93,63.97 283.01,61.24 283.09,57.84 283.17,64.58 283.25,67.77 283.33,70.83 283.41,59.18 283.49,63.24 283.56,65.74 283.64,86.37 283.72,67.17 283.80,88.90 283.88,52.02 283.96,50.09 284.04,56.72 284.12,61.21 284.20,56.23 284.27,73.00 284.35,71.63 284.43,50.14 284.51,69.17 284.59,60.70 284.67,71.91 284.75,88.90 284.83,66.06 284.91,53.19 284.99,48.99 285.06,81.96 285.14,73.77 285.22,65.25 285.30,51.71 285.38,49.75 285.46,46.60 285.54,45.77 285.62,63.91 285.70,68.77 285.78,52.31 285.85,62.45 285.93,59.99 286.01,63.33 286.09,63.62 286.17,52.39 286.25,68.95 286.33,75.30 286.41,66.29 286.49,59.40 286.56,62.92 286.64,61.51 286.72,77.45 286.80,67.88 286.88,41.97 286.96,61.81 287.04,66.21 287.12,50.66 287.20,65.23 287.28,53.91 287.35,58.56 287.43,56.92 287.51,51.49 287.59,41.01 287.67,49.44 287.75,67.76 287.83,70.04 287.91,63.28 287.99,61.97 288.06,54.46 288.14,60.22 288.22,58.77 288.30,75.19 288.38,61.72 288.46,55.93 288.54,45.80 288.62,53.71 288.70,59.70 288.78,70.73 288.85,60.58 288.93,60.49 289.01,61.75 289.09,59.19 289.17,56.17 289.25,56.69 289.33,41.26 289.41,77.88 289.49,74.13 289.56,57.18 289.64,71.20 289.72,62.38 289.80,61.29 289.88,67.60 289.96,53.73 290.04,55.03 290.12,59.40 290.20,55.37 290.28,53.09 290.35,63.30 290.43,55.48 290.51,59.43 290.59,60.66 290.67,64.66 290.75,45.56 290.83,55.50 290.91,72.95 290.99,52.62 291.06,82.75 291.14,58.34 291.22,54.04 291.30,48.40 291.38,58.88 291.46,66.77 291.54,43.89 291.62,51.72 291.70,49.49 291.78,62.87 291.85,55.21 291.93,75.95 292.01,56.58 292.09,78.92 292.17,69.60 292.25,73.42 292.33,50.82 292.41,52.74 292.49,65.80 292.57,50.01 292.64,60.04 292.72,88.90 292.80,68.05 292.88,88.90 292.96,60.11 293.04,57.61 293.12,74.15 293.20,53.73 293.28,51.62 293.35,68.49 293.43,55.81 293.51,63.04 293.59,63.17 293.67,46.12 293.75,66.84 293.83,63.82 293.91,61.29 293.99,55.76 294.07,54.00 294.14,68.87 294.22,48.82 294.30,44.80 294.38,43.23 294.46,58.31 294.54,65.08 294.62,69.95 294.70,57.64 294.78,61.30 294.85,61.16 294.93,66.05 295.01,79.86 295.09,63.15 295.17,62.15 295.25,63.83 295.33,72.95 295.41,65.90 295.49,61.93 295.57,70.43 295.64,55.03 295.72,60.93 295.80,59.44 295.88,57.18 295.96,62.79 296.04,61.27 296.12,51.81 296.20,53.98 296.28,52.82 296.35,62.19 296.43,53.89 296.51,41.14 296.59,72.75 296.67,64.10 296.75,60.77 296.83,60.53 296.91,44.94 296.99,50.24 297.07,61.70 297.14,62.87 297.22,72.65 297.30,69.06 297.38,48.83 297.46,75.46 297.54,55.03 297.62,66.60 297.70,63.14 297.78,61.34 297.85,44.55 297.93,57.50 298.01,56.02 298.09,51.59 298.17,79.69 298.25,29.38 298.33,74.94 298.41,66.63 298.49,54.38 298.57,71.05 298.64,88.90 298.72,50.21 298.80,63.06 298.88,52.15 298.96,56.07 299.04,61.98 299.12,45.55 299.20,62.51 299.28,42.71 299.36,68.02 299.43,68.93 299.51,66.20 299.59,58.19 299.67,70.10 299.75,66.30 299.83,35.22 299.91,58.59 299.99,50.13 300.07,56.96 300.14,65.25 300.22,66.81 300.30,56.90 300.38,59.51 300.46,64.65 300.54,69.80 300.62,47.52 300.70,51.06 300.78,57.49 300.86,63.04 300.93,63.74 301.01,42.69 301.09,65.27 301.17,40.04 301.25,65.81 301.33,73.01 301.41,42.57 301.49,61.08 301.57,46.85 301.64,56.28 301.72,62.19 301.80,51.92 301.88,62.64 301.96,52.52 302.04,61.33 302.12,75.40 302.20,56.69 302.28,64.74 302.36,61.38 302.43,52.99 302.51,72.44 302.59,55.46 302.67,55.12 302.75,29.38 302.83,53.03 302.91,54.26 302.99,65.78 303.07,60.37 303.14,72.40 303.22,56.68 303.30,61.93 303.38,63.38 303.46,60.10 303.54,56.32 303.62,57.99 303.70,70.48 303.78,48.80 303.86,59.87 303.93,57.40 304.01,60.24 304.09,68.42 304.17,58.03 304.25,67.27 304.33,67.67 304.41,59.26 304.49,53.81 304.57,55.08 304.64,58.69 304.72,65.63 304.80,63.17 304.88,61.51 304.96,72.64 305.04,53.40 305.12,59.01 305.20,82.58 305.28,47.47 305.36,43.72 305.43,71.49 305.51,61.88 305.59,67.56 305.67,53.75 305.75,72.20 305.83,56.14 305.91,57.07 305.99,50.84 306.07,76.70 306.15,66.99 306.22,64.20 306.30,52.17 306.38,59.63 306.46,53.96 306.54,56.49 306.62,68.12 306.70,61.41 306.78,63.83 306.86,63.13 306.93,68.31 307.01,53.93 307.09,57.83 307.17,76.84 307.25,54.11 307.33,65.31 307.41,73.20 307.49,50.04 307.57,60.65 307.65,57.43 307.72,61.65 307.80,60.80 307.88,76.03 307.96,53.98 308.04,66.82 308.12,60.57 308.20,61.21 308.28,68.82 308.36,71.28 308.43,61.80 308.51,49.52 308.59,66.15 308.67,65.68 308.75,59.68 308.83,65.48 308.91,49.17 308.99,56.50 309.07,38.85 309.15,58.57 309.22,29.38 309.30,65.48 309.38,58.42 309.46,69.51 309.54,63.68 309.62,63.04 309.70,55.03 309.78,48.54 309.86,62.51 309.93,72.73 310.01,60.25 310.09,61.70 310.17,64.42 310.25,52.77 310.33,50.38 310.41,66.15 310.49,72.32 310.57,82.50 310.65,65.51 310.72,52.83 310.80,67.99 310.88,52.18 310.96,54.18 311.04,49.15 311.12,54.48 311.20,60.63 311.28,51.07 311.36,50.72 311.43,56.84 311.51,60.17 311.59,48.59 311.67,46.85 311.75,65.28 311.83,52.55 311.91,59.28 311.99,39.52 312.07,62.56 312.15,65.13 312.22,67.69 312.30,51.84 312.38,68.88 312.46,54.16 312.54,68.23 312.62,48.10 312.70,46.13 312.78,49.84 312.86,76.61 312.94,72.34 313.01,83.10 313.09,36.91 313.17,64.89 313.25,63.30 313.33,59.34 313.41,54.50 313.49,62.62 313.57,59.17 313.65,59.50 313.72,71.03 313.80,44.03 313.88,44.70 313.96,59.47 314.04,60.86 314.12,43.40 314.20,38.50 314.28,59.22 314.36,54.44 314.44,63.23 314.51,56.76 314.59,81.82 314.67,79.14 314.75,55.72 314.83,61.27 314.91,56.17 314.99,58.92 315.07,54.34 315.15,54.56 315.22,61.06 315.30,55.90 315.38,65.30 315.46,47.26 315.54,67.98 315.62,62.96 315.70,51.64 315.78,65.19 315.86,51.12 315.94,46.76 316.01,52.60 316.09,63.24 316.17,42.84 316.25,55.40 316.33,75.38 316.41,41.85 316.49,57.75 316.57,53.96 316.65,51.50 316.72,63.80 316.80,51.49 316.88,70.11 316.96,75.54 317.04,65.28 317.12,40.31 317.20,54.05 317.28,49.14 317.36,63.03 317.44,49.04 317.51,77.61 317.59,61.44 317.67,55.42 317.75,68.14 317.83,76.45 317.91,73.45 317.99,53.67 318.07,47.49 318.15,62.48 318.22,45.33 318.30,70.56 318.38,53.84 318.46,53.15 318.54,50.12 318.62,72.38 318.70,50.60 318.78,58.34 318.86,66.87 318.94,63.35 319.01,61.30 319.09,56.95 319.17,66.87 319.25,66.99 319.33,58.72 319.41,59.84 319.49,55.19 319.57,51.66 319.65,75.78 319.73,60.44 319.80,55.11 319.88,59.28 319.96,69.09 320.04,53.53 320.12,29.49 320.20,61.32 320.28,66.74 320.36,53.09 320.44,59.70 320.51,58.85 320.59,57.93 320.67,63.89 320.75,60.04 320.83,66.25 320.91,77.11 320.99,50.87 321.07,57.45 321.15,60.59 321.23,36.27 321.30,61.34 321.38,40.22 321.46,52.78 321.54,62.54 321.62,81.82 321.70,55.85 321.78,58.04 321.86,51.16 321.94,73.56 322.01,61.10 322.09,57.98 322.17,57.02 322.25,58.99 322.33,57.32 322.41,80.37 322.49,62.78 322.57,71.66 322.65,73.57 322.73,59.05 322.80,63.48 322.88,70.20 322.96,72.28 323.04,57.24 323.12,82.30 323.20,60.89 323.28,69.88 323.36,58.90 323.44,43.27 323.51,51.12 323.59,61.03 323.67,46.86 323.75,43.54 323.83,51.33 323.91,43.78 323.99,58.10 324.07,54.41 324.15,60.71 324.23,66.47 324.30,59.74 324.38,66.78 324.46,60.80 324.54,40.55 324.62,47.21 324.70,61.62 324.78,44.80 324.86,34.33 324.94,78.46 325.01,71.95 325.09,44.71 325.17,59.06 325.25,58.30 325.33,64.54 325.41,69.63 325.49,49.81 325.57,67.02 325.65,55.15 325.73,43.57 325.80,55.18 325.88,63.39 325.96,54.35 326.04,54.98 326.12,63.92 326.20,57.57 326.28,70.56 326.36,75.34 326.44,64.77 326.52,75.39 326.59,65.52 326.67,61.05 326.75,58.38 326.83,43.60 326.91,68.15 326.99,64.06 327.07,64.12 327.15,68.95 327.23,42.20 327.30,66.94 327.38,62.19 327.46,61.67 327.54,38.62 327.62,62.85 327.70,66.91 327.78,49.23 327.86,65.99 327.94,78.78 328.02,50.16 328.09,51.93 328.17,72.83 328.25,71.17 328.33,60.54 328.41,68.81 328.49,73.73 328.57,70.89 328.65,44.48 328.73,50.78 328.80,69.80 328.88,61.73 328.96,59.45 329.04,66.68 329.12,60.75 329.20,44.90 329.28,72.09 329.36,67.33 329.44,60.91 329.52,72.88 329.59,64.47 329.67,68.79 329.75,69.42 329.83,49.81 329.91,66.49 329.99,37.50 330.07,68.17 330.15,68.76 330.23,58.40 330.30,62.97 330.38,53.10 330.46,54.62 330.54,29.38 330.62,86.94 330.70,69.95 330.78,61.04 330.86,62.55 330.94,61.13 331.02,37.54 331.09,80.84 331.17,49.02 331.25,62.71 331.33,60.58 331.41,50.96 331.49,61.19 331.57,53.58 331.65,38.00 331.73,49.95 331.80,77.38 331.88,66.51 331.96,72.35 332.04,75.30 332.12,62.43 332.20,42.08 332.28,66.49 332.36,66.69 332.44,62.27 332.52,47.32 332.59,65.78 332.67,56.71 332.75,53.40 332.83,55.65 332.91,78.98 332.99,72.55 333.07,49.47 333.15,76.81 333.23,63.02 333.31,74.54 333.38,57.49 333.46,61.51 333.54,75.06 333.62,66.66 333.70,70.71 333.78,66.19 333.86,49.98 333.94,58.69 334.02,58.19 334.09,47.47 334.17,60.27 334.25,49.48 334.33,57.67 334.41,58.81 334.49,64.46 334.57,68.65 334.65,70.43 334.73,69.52 334.81,52.96 334.88,57.56 334.96,68.68 335.04,50.25 335.12,66.87 335.20,64.67 335.28,86.72 335.36,68.64 335.44,53.41 335.52,57.25 335.59,66.79 335.67,50.18 335.75,61.73 335.83,60.46 335.91,43.39 335.99,53.95 336.07,64.08 336.15,70.51 336.23,49.70 336.31,82.03 336.38,66.64 336.46,76.64 336.54,66.34 336.62,53.62 336.70,64.10" fill="none" stroke="#000" stroke-width="0.62" stroke-opacity="1.0" stroke-linejoin="round"/>
<polyline points="131.50,56.37 131.93,57.08 132.36,76.21 132.79,57.90 133.21,54.68 133.64,52.18 134.07,65.26 134.50,60.88 134.93,53.66 135.36,65.52 135.78,63.91 136.21,56.84 136.64,56.35 137.07,53.04 137.50,54.11 137.93,58.72 138.35,65.07 138.78,63.05 139.21,59.77 139.64,57.85 140.07,59.48 140.50,55.69 140.92,63.54 141.35,61.88 141.78,66.26 142.21,49.53 142.64,60.50 143.07,54.72 143.49,53.25 143.92,57.84 144.35,60.56 144.78,62.15 145.21,60.94 145.64,68.37 146.07,62.33 146.49,55.75 146.92,58.14 147.35,55.40 147.78,55.56 148.21,56.01 148.64,59.03 149.06,58.64 149.49,54.93 149.92,61.45 150.35,66.46 150.78,55.39 151.21,59.45 151.63,54.18 152.06,62.95 152.49,68.03 152.92,60.54 153.35,62.92 153.78,64.57 154.20,51.91 154.63,58.28 155.06,65.66 155.49,67.81 155.92,60.25 156.35,56.77 156.78,58.31 157.20,53.84 157.63,58.10 158.06,57.33 158.49,69.35 158.92,53.26 159.35,62.52 159.77,55.05 160.20,67.59 160.63,64.32 161.06,53.80 161.49,66.02 161.92,58.92 162.34,61.76 162.77,51.01 163.20,57.86 163.63,53.27 164.06,59.98 164.49,68.41 164.91,49.57 165.34,62.75 165.77,59.62 166.20,60.09 166.63,67.89 167.06,56.35 167.48,61.92 167.91,68.92 168.34,67.58 168.77,71.60 169.20,64.13 169.63,61.22 170.06,65.12 170.48,60.53 170.91,62.18 171.34,57.86 171.77,60.50 172.20,61.39 172.63,64.68 173.05,66.63 173.48,65.25 173.91,58.81 174.34,63.19 174.77,53.38 175.20,56.69 175.62,67.75 176.05,58.64 176.48,54.63 176.91,64.24 177.34,54.76 177.77,64.71 178.19,53.02 178.62,58.33 179.05,62.25 179.48,69.57 179.91,61.71 180.34,65.01 180.77,59.34 181.19,65.71 181.62,58.82 182.05,63.67 182.48,58.29 182.91,57.09 183.34,60.37 183.76,58.74 184.19,55.68 184.62,66.08 185.05,58.20 185.48,59.98 185.91,53.09 186.33,62.12 186.76,56.22 187.19,69.77 187.62,54.82 188.05,58.98 188.48,59.15 188.90,56.53 189.33,67.43 189.76,62.16 190.19,60.57 190.62,62.53 191.05,63.55 191.47,56.01 191.90,60.67 192.33,62.02 192.76,60.54 193.19,54.02 193.62,51.23 194.05,55.09 194.47,58.02 194.90,67.30 195.33,63.32 195.76,65.12 196.19,65.13 196.62,54.24 197.04,63.29 197.47,53.19 197.90,59.53 198.33,60.71 198.76,61.00 199.19,67.12 199.61,61.91 200.04,55.45 200.47,56.20 200.90,58.83 201.33,56.09 201.76,58.67 202.18,57.36 202.61,47.14 203.04,58.50 203.47,67.90 203.90,69.74 204.33,62.67 204.76,57.80 205.18,53.80 205.61,58.82 206.04,57.91 206.47,55.44 206.90,63.33 207.33,58.52 207.75,56.49 208.18,60.07 208.61,62.15 209.04,55.16 209.47,52.16 209.90,57.23 210.32,69.33 210.75,61.35 211.18,59.37 211.61,54.91 212.04,59.38 212.47,59.03 212.89,51.78 213.32,50.20 213.75,56.02 214.18,61.83 214.61,62.30 215.04,52.74 215.46,59.75 215.89,55.78 216.32,56.43 216.75,54.55 217.18,53.43 217.61,60.14 218.04,58.00 218.46,53.63 218.89,54.21 219.32,60.97 219.75,44.28 220.18,60.74 220.61,48.24 221.03,61.49 221.46,48.19 221.89,61.77 222.32,47.99 222.75,51.51 223.18,48.13 223.60,55.68 224.03,50.34 224.46,50.18 224.89,50.34 225.32,53.73 225.75,43.82 226.17,59.55 226.60,57.93 227.03,57.31 227.46,42.47 227.89,53.87 228.32,52.84 228.75,52.57 229.17,50.24 229.60,49.70 230.03,50.61 230.46,55.57 230.89,45.55 231.32,47.41 231.74,39.52 232.17,44.82 232.60,47.07 233.03,53.69 233.46,45.79 233.89,42.97 234.31,37.35 234.74,43.55 235.17,41.30 235.60,42.11 236.03,36.70 236.46,38.97 236.88,44.30 237.31,51.70 237.74,35.97 238.17,43.62 238.60,47.97 239.03,51.06 239.45,52.62 239.88,42.22 240.31,44.28 240.74,41.77 241.17,37.08 241.60,46.26 242.03,41.60 242.45,45.71 242.88,47.36 243.31,54.22 243.74,46.85 244.17,37.36 244.60,45.45 245.02,41.31 245.45,42.25 245.88,32.66 246.31,35.65 246.74,46.53 247.17,45.69 247.59,38.01 248.02,42.94 248.45,43.98 248.88,38.99 249.31,42.53 249.74,45.10 250.16,31.02 250.59,44.87 251.02,54.31 251.45,46.42 251.88,47.34 252.31,40.71 252.74,48.22 253.16,53.70 253.59,49.23 254.02,57.92 254.45,54.14 254.88,51.05 255.31,57.74 255.73,64.17 256.16,59.75 256.59,59.09 257.02,52.55 257.45,58.28 257.88,56.67 258.30,61.48 258.73,56.74 259.16,60.60 259.59,54.88 260.02,56.83 260.45,50.98 260.87,55.58 261.30,60.39 261.73,63.36 262.16,58.08 262.59,55.60 263.02,51.60 263.44,62.39 263.87,66.38 264.30,69.08 264.73,64.99 265.16,61.02 265.59,61.52 266.02,61.78 266.44,60.48 266.87,58.65 267.30,68.87 267.73,60.19 268.16,61.32 268.59,61.41 269.01,62.74 269.44,70.02 269.87,58.23 270.30,63.03 270.73,61.24 271.16,59.10 271.58,60.45 272.01,58.58 272.44,58.50 272.87,65.34 273.30,66.44 273.73,56.56 274.15,64.58 274.58,49.78 275.01,66.24 275.44,59.88 275.87,61.05 276.30,59.37 276.73,65.42 277.15,59.08 277.58,50.70 278.01,63.50 278.44,71.84 278.87,57.52 279.30,58.66 279.72,57.39 280.15,64.83 280.58,58.69 281.01,56.31 281.44,63.19 281.87,60.51 282.29,58.17 282.72,57.01 283.15,61.93 283.58,59.77 284.01,50.75 284.44,50.59 284.86,66.02 285.29,49.81 285.72,62.65 286.15,55.42 286.58,66.95 287.01,61.75 287.43,64.04 287.86,56.68 288.29,59.75 288.72,58.60 289.15,58.81 289.58,59.80 290.01,56.21 290.43,60.21 290.86,61.25 291.29,64.02 291.72,65.36 292.15,63.53 292.58,59.02 293.00,55.74 293.43,61.48 293.86,50.87 294.29,54.62 294.72,60.66 295.15,59.10 295.57,60.97 296.00,70.04 296.43,56.77 296.86,59.78 297.29,69.26 297.72,56.46 298.14,63.69 298.57,62.06 299.00,69.48 299.43,61.08 299.86,58.76 300.29,63.03 300.72,60.96 301.14,70.39 301.57,58.30 302.00,61.19 302.43,61.17 302.86,57.59 303.29,55.78 303.71,61.36 304.14,56.43 304.57,51.77 305.00,66.44 305.43,60.53 305.86,69.15 306.28,59.26 306.71,54.13 307.14,61.70 307.57,66.78 308.00,63.73 308.43,58.96 308.85,68.55 309.28,68.11 309.71,58.71 310.14,67.86 310.57,60.67 311.00,66.39 311.42,69.08 311.85,56.96 312.28,55.36 312.71,64.95 313.14,49.42 313.57,60.18 314.00,58.30 314.42,60.02 314.85,66.36 315.28,55.69 315.71,60.13 316.14,58.28 316.57,60.06 316.99,62.78 317.42,48.95 317.85,58.55 318.28,61.91 318.71,57.39 319.14,66.85 319.56,58.90 319.99,47.09 320.42,64.13 320.85,58.24 321.28,66.68 321.71,60.56 322.13,55.10 322.56,65.85 322.99,65.42 323.42,54.85 323.85,59.38 324.28,57.37 324.71,58.03 325.13,67.23 325.56,69.35 325.99,70.26 326.42,58.23 326.85,67.91 327.28,69.72 327.70,63.58 328.13,61.51 328.56,59.44 328.99,69.96 329.42,54.08 329.85,65.56 330.27,60.06 330.70,61.03 331.13,65.83 331.56,58.76 331.99,59.05 332.42,55.05 332.84,51.03 333.27,49.89 333.70,55.90 334.13,57.25 334.56,62.52 334.99,68.31 335.41,58.54 335.84,63.61 336.27,62.03 336.70,63.11" fill="none" stroke="#ff0000" stroke-width="1.15" stroke-opacity="1.0" stroke-linejoin="round"/>
<polyline points="86.00,221.50 86.12,222.75 86.25,218.53 86.37,220.81 86.49,222.90 86.62,221.57 86.74,220.00 86.86,223.93 86.99,221.80 87.11,222.92 87.23,222.02 87.36,222.86 87.48,221.84 87.60,221.42 87.73,221.16 87.85,224.36 87.97,221.04 88.10,222.06 88.22,223.07 88.34,222.19 88.47,219.66 88.59,222.34 88.71,223.42 88.84,221.02 88.96,222.39 89.08,221.01 89.21,221.67 89.33,220.00 89.45,222.99 89.58,222.65 89.70,220.41 89.82,219.47 89.95,221.73 90.07,220.21 90.19,221.33 90.32,222.03 90.44,224.57 90.56,218.85 90.69,220.27 90.81,225.50 90.93,220.85 91.06,222.95 91.18,223.60 91.30,222.92 91.43,220.94 91.55,222.15 91.67,222.38 91.80,222.32 91.92,222.65 92.04,221.26 92.17,225.17 92.29,224.09 92.41,222.32 92.54,223.86 92.66,221.83 92.78,222.65 92.91,221.48 93.03,222.33 93.15,221.15 93.28,222.07 93.40,220.95 93.52,222.58 93.65,224.71 93.77,222.01 93.89,221.99 94.02,222.77 94.14,220.48 94.26,221.20 94.39,219.65 94.51,222.55 94.63,222.57 94.76,221.19 94.88,219.70 95.00,223.01 95.13,221.20 95.25,222.00 95.37,222.40 95.49,220.55 95.62,220.60 95.74,220.85 95.86,222.91 95.99,221.93 96.11,224.46 96.23,221.11 96.36,223.88 96.48,222.33 96.60,220.64 96.73,222.28 96.85,221.69 96.97,222.92 97.10,217.96 97.22,223.74 97.34,222.78 97.47,222.10 97.59,217.91 97.71,222.73 97.84,221.77 97.96,220.64 98.08,225.06 98.21,220.48 98.33,221.27 98.45,219.51 98.58,219.48 98.70,221.02 98.82,220.09 98.95,222.75 99.07,223.49 99.19,222.10 99.32,221.45 99.44,222.21 99.56,221.08 99.69,220.77 99.81,219.08 99.93,221.96 100.06,222.42 100.18,220.99 100.30,221.36 100.43,220.81 100.55,219.11 100.67,222.93 100.80,220.56 100.92,219.63 101.04,219.72 101.17,223.92 101.29,222.14 101.41,219.73 101.54,221.67 101.66,221.01 101.78,221.84 101.91,219.72 102.03,221.31 102.15,222.12 102.28,221.53 102.40,219.58 102.52,221.08 102.65,224.16 102.77,224.86 102.89,220.69 103.02,224.28 103.14,221.56 103.26,222.87 103.39,221.48 103.51,222.93 103.63,225.43 103.76,219.75 103.88,221.94 104.00,222.15 104.13,219.54 104.25,220.86 104.37,220.25 104.50,222.23 104.62,221.73 104.74,221.24 104.87,222.84 104.99,220.69 105.11,221.28 105.24,222.39 105.36,222.54 105.48,220.63 105.61,222.19 105.73,221.33 105.85,221.50 105.98,222.23 106.10,226.77 106.22,221.41 106.35,220.72 106.47,222.89 106.59,222.94 106.72,220.61 106.84,223.73 106.96,220.07 107.09,221.08 107.21,219.85 107.33,221.98 107.46,221.75 107.58,221.49 107.70,224.22 107.83,223.23 107.95,220.25 108.07,222.93 108.20,223.34 108.32,221.42 108.44,219.85 108.57,221.99 108.69,222.31 108.81,221.95 108.94,221.27 109.06,224.26 109.18,221.36 109.31,221.29 109.43,220.33 109.55,220.28 109.68,220.92 109.80,218.88 109.92,221.86 110.05,222.04 110.17,219.43 110.29,221.69 110.42,222.74 110.54,222.68 110.66,221.88 110.79,223.89 110.91,220.38 111.03,221.41 111.16,219.96 111.28,223.39 111.40,222.39 111.53,222.83 111.65,221.08 111.77,221.29 111.90,220.74 112.02,220.82 112.14,223.48 112.27,221.45 112.39,221.74 112.51,221.90 112.64,221.11 112.76,224.69 112.88,222.90 113.01,222.29 113.13,223.14 113.25,223.62 113.38,220.52 113.50,220.60 113.62,219.38 113.75,223.31 113.87,225.37 113.99,220.96 114.12,222.46 114.24,223.57 114.36,221.21 114.48,222.12 114.61,224.56 114.73,221.88 114.85,224.46 114.98,221.23 115.10,223.90 115.22,224.30 115.35,220.98 115.47,220.66 115.59,222.44 115.72,223.77 115.84,221.17 115.96,221.87 116.09,221.71 116.21,222.65 116.33,224.29 116.46,222.78 116.58,219.96 116.70,223.06 116.83,222.24 116.95,222.16 117.07,220.68 117.20,221.65 117.32,222.70 117.44,219.28 117.57,221.81 117.69,221.61 117.81,223.05 117.94,224.32 118.06,221.40 118.18,222.58 118.31,221.59 118.43,225.36 118.55,219.58 118.68,222.00 118.80,220.87 118.92,223.65 119.05,221.91 119.17,221.83 119.29,220.41 119.42,220.90 119.54,225.07 119.66,221.74 119.79,221.86 119.91,222.52 120.03,221.73 120.16,221.19 120.28,220.63 120.40,223.73 120.53,223.30 120.65,221.98 120.77,221.07 120.90,223.47 121.02,222.04 121.14,223.91 121.27,221.99 121.39,222.30 121.51,221.29 121.64,220.00 121.76,223.19 121.88,221.41 122.01,224.36 122.13,221.57 122.25,219.42 122.38,224.31 122.50,222.79 122.62,226.72 122.75,221.40 122.87,218.79 122.99,223.40 123.12,221.53 123.24,219.96 123.36,223.15 123.49,221.71 123.61,223.15 123.73,222.72 123.86,221.97 123.98,220.71 124.10,221.66 124.23,222.06 124.35,222.25 124.47,220.39 124.60,221.24 124.72,221.38 124.84,224.74 124.97,222.31 125.09,223.58 125.21,219.39 125.34,220.99 125.46,219.82 125.58,223.21 125.71,224.26 125.83,223.17 125.95,221.02 126.08,222.99 126.20,220.90 126.32,219.95 126.45,222.45 126.57,220.49 126.69,225.23 126.82,223.80 126.94,222.86 127.06,222.46 127.19,224.08 127.31,222.51 127.43,220.40 127.56,220.69 127.68,221.31 127.80,223.32 127.93,219.83 128.05,220.97 128.17,223.45 128.30,220.48 128.42,222.46 128.54,221.13 128.67,221.37 128.79,221.06 128.91,219.69 129.04,218.17 129.16,221.32 129.28,221.72 129.41,221.95 129.53,221.20 129.65,220.99 129.78,223.82 129.90,221.72 130.02,218.43 130.15,220.70 130.27,220.23 130.39,221.92 130.52,218.62 130.64,220.96 130.76,222.31 130.89,222.95 131.01,221.13 131.13,219.19 131.26,222.82 131.38,223.31 131.50,225.30 131.63,220.79 131.75,223.47 131.87,222.96 132.00,223.46 132.12,223.19 132.24,220.72 132.37,223.04 132.49,221.65 132.61,222.99 132.74,222.45 132.86,220.92 132.98,220.94 133.11,223.66 133.23,221.88 133.35,223.33 133.47,220.86 133.60,222.85 133.72,223.32 133.84,220.70 133.97,222.78 134.09,221.74 134.21,220.87 134.34,222.74 134.46,222.42 134.58,221.05 134.71,218.56 134.83,221.06 134.95,220.84 135.08,221.90 135.20,222.01 135.32,219.71 135.45,223.06 135.57,223.00 135.69,219.73 135.82,223.11 135.94,223.82 136.06,221.23 136.19,220.45 136.31,219.31 136.43,218.63 136.56,225.32 136.68,222.24 136.80,222.42 136.93,221.38 137.05,223.21 137.17,221.88 137.30,221.52 137.42,221.64 137.54,223.21 137.67,221.58 137.79,223.25 137.91,223.21 138.04,222.33 138.16,220.74 138.28,224.96 138.41,222.03 138.53,219.86 138.65,221.71 138.78,222.75 138.90,221.56 139.02,219.57 139.15,222.20 139.27,223.00 139.39,220.80 139.52,222.35 139.64,223.01 139.76,220.71 139.89,223.22 140.01,222.41 140.13,219.95 140.26,221.73 140.38,220.05 140.50,224.65 140.63,224.23 140.75,223.15 140.87,222.17 141.00,224.86 141.12,221.65 141.24,222.80 141.37,222.76 141.49,221.94 141.61,222.37 141.74,223.80 141.86,222.34 141.98,223.80 142.11,220.01 142.23,222.69 142.35,222.39 142.48,222.99 142.60,221.95 142.72,221.65 142.85,222.19 142.97,223.57 143.09,220.32 143.22,222.03 143.34,224.83 143.46,225.39 143.59,223.70 143.71,223.78 143.83,224.52 143.96,223.47 144.08,221.52 144.20,220.13 144.33,221.68 144.45,221.51 144.57,220.29 144.70,218.72 144.82,220.29 144.94,221.10 145.07,222.22 145.19,223.53 145.31,221.37 145.44,220.21 145.56,221.54 145.68,222.83 145.81,221.13 145.93,222.14 146.05,222.92 146.18,225.00 146.30,221.20 146.42,223.01 146.55,220.26 146.67,222.97 146.79,221.89 146.92,222.86 147.04,219.35 147.16,219.96 147.29,222.02 147.41,219.85 147.53,223.89 147.66,221.02 147.78,222.84 147.90,222.21 148.03,222.69 148.15,221.10 148.27,224.70 148.40,222.70 148.52,219.92 148.64,225.42 148.77,222.31 148.89,224.01 149.01,226.03 149.14,221.39 149.26,222.72 149.38,220.07 149.51,224.81 149.63,221.42 149.75,219.58 149.88,224.79 150.00,221.01 150.12,220.93 150.25,221.66 150.37,219.86 150.49,220.95 150.62,223.04 150.74,223.12 150.86,222.17 150.99,219.47 151.11,222.15 151.23,220.60 151.36,222.17 151.48,221.00 151.60,221.13 151.73,220.08 151.85,219.16 151.97,222.69 152.10,223.67 152.22,222.05 152.34,221.98 152.46,221.52 152.59,220.40 152.71,222.55 152.83,221.91 152.96,221.89 153.08,220.22 153.20,222.55 153.33,220.08 153.45,218.95 153.57,222.22 153.70,219.73 153.82,221.05 153.94,221.97 154.07,218.80 154.19,219.97 154.31,222.33 154.44,220.99 154.56,222.87 154.68,223.94 154.81,220.24 154.93,221.83 155.05,219.32 155.18,221.58 155.30,221.40 155.42,221.99 155.55,221.56 155.67,223.02 155.79,222.17 155.92,224.47 156.04,224.59 156.16,223.91 156.29,222.78 156.41,221.97 156.53,222.11 156.66,220.05 156.78,218.09 156.90,225.53 157.03,219.64 157.15,220.43 157.27,222.73 157.40,221.62 157.52,224.82 157.64,222.21 157.77,219.47 157.89,223.68 158.01,222.78 158.14,221.72 158.26,220.85 158.38,221.81 158.51,222.68 158.63,220.89 158.75,222.77 158.88,218.23 159.00,219.99 159.12,221.72 159.25,223.11 159.37,222.74 159.49,223.00 159.62,222.39 159.74,221.24 159.86,223.86 159.99,221.64 160.11,221.88 160.23,223.35 160.36,219.94 160.48,221.16 160.60,221.40 160.73,222.76 160.85,223.01 160.97,221.84 161.10,224.13 161.22,221.35 161.34,223.63 161.47,221.94 161.59,220.89 161.71,222.31 161.84,222.90 161.96,223.05 162.08,221.70 162.21,223.61 162.33,221.99 162.45,220.44 162.58,224.80 162.70,223.13 162.82,221.51 162.95,223.62 163.07,223.52 163.19,223.81 163.32,220.64 163.44,225.20 163.56,222.14 163.69,222.27 163.81,221.94 163.93,223.16 164.06,221.85 164.18,222.76 164.30,223.28 164.43,218.03 164.55,220.43 164.67,223.63 164.80,223.05 164.92,221.31 165.04,219.77 165.17,222.27 165.29,220.87 165.41,221.65 165.54,220.17 165.66,222.78 165.78,223.12 165.91,221.51 166.03,221.51 166.15,221.85 166.28,220.04 166.40,220.85 166.52,221.73 166.65,223.69 166.77,220.83 166.89,220.56 167.02,222.87 167.14,222.00 167.26,223.57 167.39,221.67 167.51,222.19 167.63,224.59 167.76,221.85 167.88,222.34 168.00,222.34 168.13,220.20 168.25,221.05 168.37,220.43 168.50,222.31 168.62,219.67 168.74,222.96 168.87,220.60 168.99,224.09 169.11,221.40 169.24,223.32 169.36,224.00 169.48,220.66 169.61,221.40 169.73,220.90 169.85,221.61 169.98,221.28 170.10,221.71 170.22,221.90 170.35,221.44 170.47,217.96 170.59,223.21 170.72,223.98 170.84,223.04 170.96,222.62 171.09,220.67 171.21,219.74 171.33,219.65 171.45,221.82 171.58,220.28 171.70,218.42 171.82,220.36 171.95,219.25 172.07,222.93 172.19,219.88 172.32,220.00 172.44,223.30 172.56,221.21 172.69,220.24 172.81,222.71 172.93,219.72 173.06,219.58 173.18,220.68 173.30,221.35 173.43,221.47 173.55,220.49 173.67,219.22 173.80,223.41 173.92,220.85 174.04,220.68 174.17,222.52 174.29,223.22 174.41,221.37 174.54,223.88 174.66,220.64 174.78,221.42 174.91,222.83 175.03,220.87 175.15,222.36 175.28,222.12 175.40,218.73 175.52,222.16 175.65,225.33 175.77,220.20 175.89,222.58 176.02,222.30 176.14,217.85 176.26,220.75 176.39,219.08 176.51,223.11 176.63,222.44 176.76,222.05 176.88,219.11 177.00,221.68 177.13,224.02 177.25,218.93 177.37,221.31 177.50,220.11 177.62,218.78 177.74,216.02 177.87,220.22 177.99,217.02 178.11,222.75 178.24,219.69 178.36,219.37 178.48,224.33 178.61,221.84 178.73,221.28 178.85,218.77 178.98,220.72 179.10,220.53 179.22,221.03 179.35,218.61 179.47,219.63 179.59,219.60 179.72,219.90 179.84,217.87 179.96,220.76 180.09,219.23 180.21,219.07 180.33,218.35 180.46,216.76 180.58,218.13 180.70,222.08 180.83,216.51 180.95,215.93 181.07,215.70 181.20,216.51 181.32,221.94 181.44,218.59 181.57,216.42 181.69,216.23 181.81,218.26 181.94,217.65 182.06,220.46 182.18,216.83 182.31,222.68 182.43,218.41 182.55,215.17 182.68,220.36 182.80,214.18 182.92,212.35 183.05,215.82 183.17,218.35 183.29,218.25 183.42,220.06 183.54,214.85 183.66,219.52 183.79,216.05 183.91,219.32 184.03,214.90 184.16,219.95 184.28,216.83 184.40,217.98 184.53,213.13 184.65,216.91 184.77,216.15 184.90,213.10 185.02,218.61 185.14,218.89 185.27,215.45 185.39,218.11 185.51,210.18 185.64,214.53 185.76,214.07 185.88,215.69 186.01,224.01 186.13,210.62 186.25,214.71 186.38,220.44 186.50,217.43 186.62,214.05 186.75,209.96 186.87,212.64 186.99,212.41 187.12,212.38 187.24,216.51 187.36,215.32 187.49,212.97 187.61,217.31 187.73,212.62 187.86,210.36 187.98,220.43 188.10,213.07 188.23,213.09 188.35,211.67 188.47,205.76 188.60,217.28 188.72,204.70 188.84,208.96 188.97,202.35 189.09,212.41 189.21,209.57 189.34,211.54 189.46,208.71 189.58,217.19 189.71,213.16 189.83,210.71 189.95,209.95 190.08,215.39 190.20,210.84 190.32,211.81 190.44,208.08 190.57,205.80 190.69,215.24 190.81,212.69 190.94,210.99 191.06,212.41 191.18,202.43 191.31,201.09 191.43,204.71 191.55,205.48 191.68,211.99 191.80,212.27 191.92,205.27 192.05,200.58 192.17,208.16 192.29,205.24 192.42,199.36 192.54,198.58 192.66,210.22 192.79,204.47 192.91,202.18 193.03,213.25 193.16,211.05 193.28,204.03 193.40,207.17 193.53,202.12 193.65,206.02 193.77,214.65 193.90,209.63 194.02,213.53 194.14,209.66 194.27,202.46 194.39,201.80 194.51,200.56 194.64,196.60 194.76,207.90 194.88,205.37 195.01,201.45 195.13,193.82 195.25,200.24 195.38,202.03 195.50,200.30 195.62,205.34 195.75,210.32 195.87,198.15 195.99,202.52 196.12,197.82 196.24,205.69 196.36,204.72 196.49,195.56 196.61,199.03 196.73,194.12 196.86,203.17 196.98,198.04 197.10,194.66 197.23,193.35 197.35,197.91 197.47,198.59 197.60,197.64 197.72,197.71 197.84,197.02 197.97,194.15 198.09,203.17 198.21,196.24 198.34,201.11 198.46,195.53 198.58,196.71 198.71,194.26 198.83,196.29 198.95,195.55 199.08,201.83 199.20,187.01 199.32,201.26 199.45,203.82 199.57,194.26 199.69,190.32 199.82,193.66 199.94,195.62 200.06,198.74 200.19,182.99 200.31,201.30 200.43,179.63 200.56,200.16 200.68,196.93 200.80,192.56 200.93,194.78 201.05,188.17 201.17,195.07 201.30,192.13 201.42,200.90 201.54,186.28 201.67,191.13 201.79,193.29 201.91,188.89 202.04,183.91 202.16,186.52 202.28,191.97 202.41,187.11 202.53,185.84 202.65,186.88 202.78,188.73 202.90,183.25 203.02,194.01 203.15,185.66 203.27,190.36 203.39,185.47 203.52,188.61 203.64,181.73 203.76,187.14 203.89,178.56 204.01,189.42 204.13,178.94 204.26,188.48 204.38,196.70 204.50,188.75 204.63,178.85 204.75,182.20 204.87,180.39 205.00,184.67 205.12,180.69 205.24,187.31 205.37,175.68 205.49,174.75 205.61,185.55 205.74,184.17 205.86,187.22 205.98,177.62 206.11,183.73 206.23,184.80 206.35,176.34 206.48,175.47 206.60,176.77 206.72,177.34 206.85,177.90 206.97,178.83 207.09,180.08 207.22,181.37 207.34,172.17 207.46,191.03 207.59,177.19 207.71,173.39 207.83,166.29 207.96,178.77 208.08,172.06 208.20,170.79 208.33,171.97 208.45,167.52 208.57,187.86 208.70,171.18 208.82,176.02 208.94,173.29 209.07,180.93 209.19,181.93 209.31,183.35 209.43,172.68 209.56,175.51 209.68,180.30 209.80,174.67 209.93,178.94 210.05,177.72 210.17,174.33 210.30,170.04 210.42,185.75 210.54,173.60 210.67,174.00 210.79,178.47 210.91,174.16 211.04,171.27 211.16,168.48 211.28,177.31 211.41,179.22 211.53,174.77 211.65,174.14 211.78,172.00 211.90,171.52 212.02,179.71 212.15,168.45 212.27,181.18 212.39,169.75 212.52,168.98 212.64,169.19 212.76,169.98 212.89,169.20 213.01,175.59 213.13,179.70 213.26,161.74 213.38,163.80 213.50,164.62 213.63,166.60 213.75,179.58 213.87,162.25 214.00,181.94 214.12,170.47 214.24,166.31 214.37,171.79 214.49,164.02 214.61,178.27 214.74,164.30 214.86,166.80 214.98,171.92 215.11,165.37 215.23,164.08 215.35,166.20 215.48,164.76 215.60,170.95 215.72,164.31 215.85,164.11 215.97,163.19 216.09,165.41 216.22,180.87 216.34,165.76 216.46,172.41 216.59,170.38 216.71,167.99 216.83,166.86 216.96,168.47 217.08,166.19 217.20,165.48 217.33,166.60 217.45,166.93 217.57,169.18 217.70,164.66 217.82,170.29 217.94,172.24 218.07,163.26 218.19,166.74 218.31,177.02 218.44,162.96 218.56,162.83 218.68,173.06 218.81,170.96 218.93,169.62 219.05,170.79 219.18,168.72 219.30,166.73 219.42,163.11 219.55,174.86 219.67,166.07 219.79,162.63 219.92,174.53 220.04,168.15 220.16,166.41 220.29,168.06 220.41,163.53 220.53,161.59 220.66,168.86 220.78,159.10 220.90,168.31 221.03,172.76 221.15,173.68 221.27,165.26 221.40,161.89 221.52,163.96 221.64,167.71 221.77,161.15 221.89,164.16 222.01,164.86 222.14,166.27 222.26,173.14 222.38,163.66 222.51,165.45 222.63,173.40 222.75,168.40 222.88,164.05 223.00,160.30 223.12,161.57 223.25,161.78 223.37,159.69 223.49,163.14 223.62,160.99 223.74,164.93 223.86,164.50 223.99,168.20 224.11,176.85 224.23,163.81 224.36,170.43 224.48,165.58 224.60,162.82 224.73,167.54 224.85,163.82 224.97,167.82 225.10,168.10 225.22,163.26 225.34,162.79 225.47,169.51 225.59,163.49 225.71,169.26 225.84,164.74 225.96,167.17 226.08,168.49 226.21,164.77 226.33,160.34 226.45,190.03 226.58,168.83 226.70,170.77 226.82,167.64 226.95,168.73 227.07,201.22 227.19,164.75 227.32,164.00 227.44,168.29 227.56,164.87 227.69,161.99 227.81,163.88 227.93,164.45 228.06,170.72 228.18,167.23 228.30,162.11 228.42,163.11 228.55,167.23 228.67,171.31 228.79,169.59 228.92,182.10 229.04,164.36 229.16,161.07 229.29,163.21 229.41,166.15 229.53,163.60 229.66,164.86 229.78,171.66 229.90,173.34 230.03,167.32 230.15,167.01 230.27,167.32 230.40,159.79 230.52,162.33 230.64,165.22 230.77,170.19 230.89,179.63 231.01,166.30 231.14,162.42 231.26,167.11 231.38,163.68 231.51,168.80 231.63,171.07 231.75,156.22 231.88,170.55 232.00,170.60 232.12,165.54 232.25,162.38 232.37,164.97 232.49,165.57 232.62,160.71 232.74,169.91 232.86,173.50 232.99,171.71 233.11,163.35 233.23,162.88 233.36,167.83 233.48,171.80 233.60,169.79 233.73,165.75 233.85,163.15 233.97,187.00 234.10,170.05 234.22,170.51 234.34,169.44 234.47,164.66 234.59,166.59 234.71,166.01 234.84,167.07 234.96,173.98 235.08,195.14 235.21,183.23 235.33,166.45 235.45,166.31 235.58,163.66 235.70,182.87 235.82,171.67 235.95,173.21 236.07,169.32 236.19,166.22 236.32,182.71 236.44,166.43 236.56,167.36 236.69,166.46 236.81,166.31 236.93,176.68 237.06,166.58 237.18,161.87 237.30,165.43 237.43,175.56 237.55,167.25 237.67,171.57 237.80,166.87 237.92,180.99 238.04,170.02 238.17,165.45 238.29,173.67 238.41,164.60 238.54,172.44 238.66,177.99 238.78,167.20 238.91,170.41 239.03,172.65 239.15,169.15 239.28,165.27 239.40,168.80 239.52,180.59 239.65,171.16 239.77,168.62 239.89,173.64 240.02,169.14 240.14,181.27 240.26,171.94 240.39,171.58 240.51,168.07 240.63,177.28 240.76,173.00 240.88,169.79 241.00,157.69 241.13,171.46 241.25,169.38 241.37,175.54 241.50,161.58 241.62,174.24 241.74,174.49 241.87,172.62 241.99,180.60 242.11,179.24 242.24,175.92 242.36,178.64 242.48,183.81 242.61,177.37 242.73,162.50 242.85,173.53 242.98,193.35 243.10,174.55 243.22,171.73 243.35,175.84 243.47,173.57 243.59,177.60 243.72,181.01 243.84,177.32 243.96,166.88 244.09,179.53 244.21,177.81 244.33,186.61 244.46,181.74 244.58,176.18 244.70,180.39 244.83,172.94 244.95,172.99 245.07,181.73 245.20,179.89 245.32,175.47 245.44,177.50 245.57,181.77 245.69,191.39 245.81,171.92 245.94,180.42 246.06,182.80 246.18,187.82 246.31,171.97 246.43,182.13 246.55,185.42 246.68,194.57 246.80,190.02 246.92,182.78 247.05,180.17 247.17,178.51 247.29,184.95 247.41,181.61 247.54,184.98 247.66,184.96 247.78,184.16 247.91,198.50 248.03,201.62 248.15,173.03 248.28,196.45 248.40,189.38 248.52,181.88 248.65,190.31 248.77,178.89 248.89,199.76 249.02,185.83 249.14,182.88 249.26,176.99 249.39,177.72 249.51,193.60 249.63,182.21 249.76,186.30 249.88,196.43 250.00,193.19 250.13,181.94 250.25,191.12 250.37,209.01 250.50,193.84 250.62,198.31 250.74,200.66 250.87,188.03 250.99,187.68 251.11,187.31 251.24,201.49 251.36,198.95 251.48,188.98 251.61,191.06 251.73,193.45 251.85,200.43 251.98,194.87 252.10,202.38 252.22,183.19 252.35,188.93 252.47,200.28 252.59,187.26 252.72,201.06 252.84,190.76 252.96,193.74 253.09,197.67 253.21,186.50 253.33,206.32 253.46,197.95 253.58,198.17 253.70,207.88 253.83,206.31 253.95,198.24 254.07,195.36 254.20,209.68 254.32,193.91 254.44,194.73 254.57,193.01 254.69,199.70 254.81,198.97 254.94,194.76 255.06,202.34 255.18,204.28 255.31,213.29 255.43,196.29 255.55,191.80 255.68,211.26 255.80,201.73 255.92,195.72 256.05,191.23 256.17,198.91 256.29,205.58 256.42,196.49 256.54,193.35 256.66,198.78 256.79,197.03 256.91,191.12 257.03,212.42 257.16,196.96 257.28,200.91 257.40,196.24 257.53,201.12 257.65,204.43 257.77,205.73 257.90,210.19 258.02,207.10 258.14,209.87 258.27,204.43 258.39,206.63 258.51,207.10 258.64,208.04 258.76,203.97 258.88,211.23 259.01,201.32 259.13,205.01 259.25,201.98 259.38,207.06 259.50,206.57 259.62,204.94 259.75,205.30 259.87,208.92 259.99,207.95 260.12,209.13 260.24,208.61 260.36,212.74 260.49,211.01 260.61,212.13 260.73,200.61 260.86,211.30 260.98,208.26 261.10,212.70 261.23,210.82 261.35,202.45 261.47,213.07 261.60,208.58 261.72,209.14 261.84,204.97 261.97,209.51 262.09,209.78 262.21,210.53 262.34,218.41 262.46,205.36 262.58,202.65 262.71,213.77 262.83,206.67 262.95,210.39 263.08,204.31 263.20,212.93 263.32,208.94 263.45,205.39 263.57,208.78 263.69,210.35 263.82,212.46 263.94,213.93 264.06,212.13 264.19,215.58 264.31,205.42 264.43,209.79 264.56,212.70 264.68,218.06 264.80,208.32 264.93,207.42 265.05,210.93 265.17,209.44 265.30,209.60 265.42,213.10 265.54,214.06 265.67,212.80 265.79,209.20 265.91,215.49 266.04,221.02 266.16,213.32 266.28,213.48 266.40,214.30 266.53,213.53 266.65,218.19 266.77,219.00 266.90,215.80 267.02,214.88 267.14,213.88 267.27,212.56 267.39,214.38 267.51,215.58 267.64,218.31 267.76,217.84 267.88,220.31 268.01,217.80 268.13,215.00 268.25,214.18 268.38,218.99 268.50,212.64 268.62,223.38 268.75,214.77 268.87,216.41 268.99,216.98 269.12,215.48 269.24,217.86 269.36,210.57 269.49,218.45 269.61,217.90 269.73,216.25 269.86,222.43 269.98,217.62 270.10,221.75 270.23,213.90 270.35,218.81 270.47,217.95 270.60,222.23 270.72,213.20 270.84,222.22 270.97,221.60 271.09,219.88 271.21,223.69 271.34,221.45 271.46,219.90 271.58,216.30 271.71,216.38 271.83,221.27 271.95,219.93 272.08,217.11 272.20,216.01 272.32,220.74 272.45,219.58 272.57,218.96 272.69,218.69 272.82,219.62 272.94,215.14 273.06,219.66 273.19,216.61 273.31,218.36 273.43,211.67 273.56,216.16 273.68,223.59 273.80,218.07 273.93,224.10 274.05,216.84 274.17,220.21 274.30,224.00 274.42,221.82 274.54,220.74 274.67,216.88 274.79,219.65 274.91,218.93 275.04,221.28 275.16,220.97 275.28,223.00 275.41,220.91 275.53,220.72 275.65,220.57 275.78,222.02 275.90,220.87 276.02,221.28 276.15,220.00 276.27,221.89 276.39,221.70 276.52,222.28 276.64,221.95 276.76,221.27 276.89,222.63 277.01,218.52 277.13,218.96 277.26,220.19 277.38,219.51 277.50,223.31 277.63,222.08 277.75,221.81 277.87,220.58 278.00,219.60 278.12,219.54 278.24,223.61 278.37,221.18 278.49,219.22 278.61,221.58 278.74,220.35 278.86,224.05 278.98,221.13 279.11,221.78 279.23,224.99 279.35,219.92 279.48,219.08 279.60,220.06 279.72,221.89 279.85,221.56 279.97,222.50 280.09,220.41 280.22,220.60 280.34,219.04 280.46,221.41 280.59,219.96 280.71,221.80 280.83,222.68 280.96,221.48 281.08,223.00 281.20,222.90 281.33,220.32 281.45,220.41 281.57,222.79 281.70,222.99 281.82,221.89 281.94,222.80 282.07,220.52 282.19,222.15 282.31,223.72 282.44,222.99 282.56,221.02 282.68,218.49 282.81,220.96 282.93,223.84 283.05,223.14 283.18,221.49 283.30,222.01 283.42,221.53 283.55,218.69 283.67,223.37 283.79,223.33 283.92,221.88 284.04,221.75 284.16,221.49 284.29,220.57 284.41,221.85 284.53,220.22 284.66,221.55 284.78,221.26 284.90,224.43 285.03,223.15 285.15,222.43 285.27,220.88 285.39,222.83 285.52,223.33 285.64,222.99 285.76,219.32 285.89,224.10 286.01,221.54 286.13,221.82 286.26,219.77 286.38,220.86 286.50,222.37 286.63,220.63 286.75,219.97 286.87,222.44 287.00,224.35 287.12,223.66 287.24,221.85 287.37,223.40 287.49,221.71 287.61,220.24 287.74,221.60 287.86,218.70 287.98,222.10 288.11,223.70 288.23,221.64 288.35,220.47 288.48,223.94 288.60,221.25 288.72,219.52 288.85,221.60 288.97,219.26 289.09,224.11 289.22,221.10 289.34,224.37 289.46,224.48 289.59,224.08 289.71,220.41 289.83,221.51 289.96,219.92 290.08,223.20 290.20,224.42 290.33,220.70 290.45,222.97 290.57,224.18 290.70,220.85 290.82,220.46 290.94,223.10 291.07,221.76 291.19,221.18 291.31,223.35 291.44,223.17 291.56,221.57 291.68,219.59 291.81,223.40 291.93,220.79 292.05,221.11 292.18,221.68 292.30,222.25 292.42,223.18 292.55,220.97 292.67,222.12 292.79,225.60 292.92,221.47 293.04,223.11 293.16,222.15 293.29,218.98 293.41,221.45 293.53,225.00 293.66,222.59 293.78,223.63 293.90,220.49 294.03,226.84 294.15,221.12 294.27,221.89 294.40,222.48 294.52,221.34 294.64,219.30 294.77,224.70 294.89,222.71 295.01,221.99 295.14,221.91 295.26,222.32 295.38,221.24 295.51,221.73 295.63,222.56 295.75,224.68 295.88,220.91 296.00,219.74 296.12,220.15 296.25,221.26 296.37,220.11 296.49,224.06 296.62,220.67 296.74,221.34 296.86,221.94 296.99,220.15 297.11,222.10 297.23,222.40 297.36,223.34 297.48,224.55 297.60,222.52 297.73,219.25 297.85,219.08 297.97,222.74 298.10,221.60 298.22,219.57 298.34,223.36 298.47,222.51 298.59,223.93 298.71,219.45 298.84,222.79 298.96,222.39 299.08,221.90 299.21,223.13 299.33,218.04 299.45,220.11 299.58,218.69 299.70,224.89 299.82,220.68 299.95,222.07 300.07,223.48 300.19,221.68 300.32,219.39 300.44,220.05 300.56,222.56 300.69,216.60 300.81,220.05 300.93,222.98 301.06,223.02 301.18,222.71 301.30,221.87 301.43,222.52 301.55,222.71 301.67,220.29 301.80,222.70 301.92,221.51 302.04,222.64 302.17,222.07 302.29,219.90 302.41,221.64 302.54,220.50 302.66,221.78 302.78,219.98 302.91,221.71 303.03,219.94 303.15,223.60 303.28,219.98 303.40,220.98 303.52,223.05 303.65,222.68 303.77,224.67 303.89,222.09 304.02,221.43 304.14,222.51 304.26,220.14 304.38,224.98 304.51,222.07 304.63,223.63 304.75,222.54 304.88,220.48 305.00,221.80 305.12,219.54 305.25,222.32 305.37,222.77 305.49,222.21 305.62,224.03 305.74,223.12 305.86,221.92 305.99,220.43 306.11,223.35 306.23,223.22 306.36,224.26 306.48,224.00 306.60,222.00 306.73,221.86 306.85,221.45 306.97,222.35 307.10,220.36 307.22,224.58 307.34,222.01 307.47,220.99 307.59,222.46 307.71,221.31 307.84,222.30 307.96,222.52 308.08,221.71 308.21,222.92 308.33,222.00 308.45,221.04 308.58,223.60 308.70,220.91 308.82,220.17 308.95,219.46 309.07,222.40 309.19,220.21 309.32,224.69 309.44,223.98 309.56,221.83 309.69,223.60 309.81,223.34 309.93,223.47 310.06,222.43 310.18,222.94 310.30,223.39 310.43,222.03 310.55,222.76 310.67,221.97 310.80,221.51 310.92,221.15 311.04,222.30 311.17,222.61 311.29,222.60 311.41,223.59 311.54,221.29 311.66,222.06 311.78,220.43 311.91,221.54 312.03,222.72 312.15,220.72 312.28,222.42 312.40,222.09 312.52,221.30 312.65,221.64 312.77,223.12 312.89,220.96 313.02,221.42 313.14,222.02 313.26,222.28 313.39,221.64 313.51,224.21 313.63,220.07 313.76,225.65 313.88,223.49 314.00,223.45 314.13,221.43 314.25,221.96 314.37,221.50 314.50,223.81 314.62,220.27 314.74,220.71 314.87,225.10 314.99,221.75 315.11,224.88 315.24,222.86 315.36,221.24 315.48,222.02 315.61,223.98 315.73,222.98 315.85,220.48 315.98,221.81 316.10,221.00 316.22,224.55 316.35,221.30 316.47,221.78 316.59,223.45 316.72,220.00 316.84,222.11 316.96,220.77 317.09,222.79 317.21,221.46 317.33,221.27 317.46,222.21 317.58,221.88 317.70,221.59 317.83,222.17 317.95,223.86 318.07,221.54 318.20,222.20 318.32,221.66 318.44,223.21 318.57,219.81 318.69,220.70 318.81,220.01 318.94,219.28 319.06,220.56 319.18,222.43 319.31,223.84 319.43,220.35 319.55,221.60 319.68,220.78 319.80,220.07 319.92,222.23 320.05,223.33 320.17,221.40 320.29,222.63 320.42,223.20 320.54,221.44 320.66,222.35 320.79,221.26 320.91,223.57 321.03,222.16 321.16,222.36 321.28,222.03 321.40,222.86 321.53,221.04 321.65,224.08 321.77,221.35 321.90,220.42 322.02,222.01 322.14,221.88 322.27,223.10 322.39,221.62 322.51,221.36 322.64,221.74 322.76,221.46 322.88,221.21 323.01,221.67 323.13,224.62 323.25,223.61 323.37,222.15 323.50,218.90 323.62,220.45 323.74,222.02 323.87,222.27 323.99,222.62 324.11,221.15 324.24,222.43 324.36,221.91 324.48,223.25 324.61,222.61 324.73,223.41 324.85,223.12 324.98,222.49 325.10,220.31 325.22,221.49 325.35,220.49 325.47,222.66 325.59,221.60 325.72,222.86 325.84,222.27 325.96,222.22 326.09,224.31 326.21,221.93 326.33,223.71 326.46,221.30 326.58,222.91 326.70,224.23 326.83,223.69 326.95,223.27 327.07,219.97 327.20,223.80 327.32,222.56 327.44,221.78 327.57,222.27 327.69,222.11 327.81,221.04 327.94,223.02 328.06,219.55 328.18,220.09 328.31,221.73 328.43,220.09 328.55,221.85 328.68,222.62 328.80,223.72 328.92,222.97 329.05,221.20 329.17,221.55 329.29,219.76 329.42,219.80 329.54,220.75 329.66,221.84 329.79,219.49 329.91,222.07 330.03,225.42 330.16,222.40 330.28,221.36 330.40,221.21 330.53,221.20 330.65,220.91 330.77,225.69 330.90,218.77 331.02,221.23 331.14,221.90 331.27,224.77 331.39,220.85 331.51,223.49 331.64,224.86 331.76,221.19 331.88,221.26 332.01,222.23 332.13,223.34 332.25,221.44 332.38,221.96 332.50,221.57" fill="none" stroke="#000" stroke-width="0.85" stroke-opacity="1.0" stroke-linejoin="round"/>
<line x1="200.50" y1="191.07" x2="200.50" y2="217.50" stroke="#000" stroke-opacity="0.6" stroke-width="0.8"/>
<line x1="213.00" y1="170.53" x2="213.00" y2="199.10" stroke="#000" stroke-opacity="0.6" stroke-width="0.8"/>
<line x1="237.70" y1="169.66" x2="237.70" y2="200.25" stroke="#000" stroke-opacity="0.6" stroke-width="0.8"/>
<line x1="243.60" y1="177.25" x2="243.60" y2="207.72" stroke="#000" stroke-opacity="0.6" stroke-width="0.8"/>
<line x1="244.50" y1="178.64" x2="244.50" y2="204.85" stroke="#000" stroke-opacity="0.6" stroke-width="0.8"/>
<line x1="206.00" y1="180.67" x2="206.00" y2="193.35" stroke="#000" stroke-opacity="0.6" stroke-width="0.8"/>
<line x1="219.00" y1="166.20" x2="219.00" y2="184.72" stroke="#000" stroke-opacity="0.6" stroke-width="0.8"/>
<line x1="231.00" y1="165.69" x2="231.00" y2="181.85" stroke="#000" stroke-opacity="0.6" stroke-width="0.8"/>
<line x1="249.00" y1="186.85" x2="249.00" y2="199.10" stroke="#000" stroke-opacity="0.6" stroke-width="0.8"/>
<line x1="253.00" y1="194.47" x2="253.00" y2="204.85" stroke="#000" stroke-opacity="0.6" stroke-width="0.8"/>
<line x1="209.50" y1="174.87" x2="209.50" y2="190.47" stroke="#000" stroke-opacity="0.6" stroke-width="0.8"/>
<line x1="226.00" y1="165.18" x2="226.00" y2="178.97" stroke="#000" stroke-opacity="0.6" stroke-width="0.8"/>
<line x1="234.50" y1="167.17" x2="234.50" y2="187.60" stroke="#000" stroke-opacity="0.6" stroke-width="0.8"/>
<polyline points="86.00,225.98 86.12,225.98 86.25,225.97 86.37,225.97 86.49,225.97 86.62,225.97 86.74,225.96 86.86,225.96 86.99,225.96 87.11,225.95 87.23,225.95 87.36,225.95 87.48,225.94 87.60,225.94 87.73,225.94 87.85,225.94 87.97,225.93 88.10,225.93 88.22,225.93 88.34,225.92 88.47,225.92 88.59,225.92 88.71,225.91 88.84,225.91 88.96,225.91 89.08,225.90 89.21,225.90 89.33,225.90 89.45,225.90 89.58,225.89 89.70,225.89 89.82,225.89 89.95,225.88 90.07,225.88 90.19,225.88 90.32,225.87 90.44,225.87 90.56,225.87 90.69,225.86 90.81,225.86 90.93,225.86 91.06,225.85 91.18,225.85 91.30,225.85 91.43,225.84 91.55,225.84 91.67,225.84 91.80,225.83 91.92,225.83 92.04,225.83 92.17,225.82 92.29,225.82 92.41,225.82 92.54,225.81 92.66,225.81 92.78,225.81 92.91,225.80 93.03,225.80 93.15,225.80 93.28,225.79 93.40,225.79 93.52,225.79 93.65,225.78 93.77,225.78 93.89,225.78 94.02,225.77 94.14,225.77 94.26,225.77 94.39,225.76 94.51,225.76 94.63,225.76 94.76,225.75 94.88,225.75 95.00,225.75 95.13,225.74 95.25,225.74 95.37,225.74 95.49,225.73 95.62,225.73 95.74,225.72 95.86,225.72 95.99,225.72 96.11,225.71 96.23,225.71 96.36,225.71 96.48,225.70 96.60,225.70 96.73,225.70 96.85,225.69 96.97,225.69 97.10,225.68 97.22,225.68 97.34,225.68 97.47,225.67 97.59,225.67 97.71,225.67 97.84,225.66 97.96,225.66 98.08,225.65 98.21,225.65 98.33,225.65 98.45,225.64 98.58,225.64 98.70,225.64 98.82,225.63 98.95,225.63 99.07,225.62 99.19,225.62 99.32,225.62 99.44,225.61 99.56,225.61 99.69,225.60 99.81,225.60 99.93,225.60 100.06,225.59 100.18,225.59 100.30,225.58 100.43,225.58 100.55,225.58 100.67,225.57 100.80,225.57 100.92,225.56 101.04,225.56 101.17,225.56 101.29,225.55 101.41,225.55 101.54,225.54 101.66,225.54 101.78,225.54 101.91,225.53 102.03,225.53 102.15,225.52 102.28,225.52 102.40,225.52 102.52,225.51 102.65,225.51 102.77,225.50 102.89,225.50 103.02,225.49 103.14,225.49 103.26,225.49 103.39,225.48 103.51,225.48 103.63,225.47 103.76,225.47 103.88,225.46 104.00,225.46 104.13,225.46 104.25,225.45 104.37,225.45 104.50,225.44 104.62,225.44 104.74,225.43 104.87,225.43 104.99,225.43 105.11,225.42 105.24,225.42 105.36,225.41 105.48,225.41 105.61,225.40 105.73,225.40 105.85,225.39 105.98,225.39 106.10,225.39 106.22,225.38 106.35,225.38 106.47,225.37 106.59,225.37 106.72,225.36 106.84,225.36 106.96,225.35 107.09,225.35 107.21,225.34 107.33,225.34 107.46,225.33 107.58,225.33 107.70,225.32 107.83,225.32 107.95,225.32 108.07,225.31 108.20,225.31 108.32,225.30 108.44,225.30 108.57,225.29 108.69,225.29 108.81,225.28 108.94,225.28 109.06,225.27 109.18,225.27 109.31,225.26 109.43,225.26 109.55,225.25 109.68,225.25 109.80,225.24 109.92,225.24 110.05,225.23 110.17,225.23 110.29,225.22 110.42,225.22 110.54,225.21 110.66,225.21 110.79,225.20 110.91,225.20 111.03,225.19 111.16,225.19 111.28,225.18 111.40,225.18 111.53,225.17 111.65,225.17 111.77,225.16 111.90,225.16 112.02,225.15 112.14,225.15 112.27,225.14 112.39,225.13 112.51,225.13 112.64,225.12 112.76,225.12 112.88,225.11 113.01,225.11 113.13,225.10 113.25,225.10 113.38,225.09 113.50,225.09 113.62,225.08 113.75,225.08 113.87,225.07 113.99,225.06 114.12,225.06 114.24,225.05 114.36,225.05 114.48,225.04 114.61,225.04 114.73,225.03 114.85,225.03 114.98,225.02 115.10,225.01 115.22,225.01 115.35,225.00 115.47,225.00 115.59,224.99 115.72,224.99 115.84,224.98 115.96,224.97 116.09,224.97 116.21,224.96 116.33,224.96 116.46,224.95 116.58,224.94 116.70,224.94 116.83,224.93 116.95,224.93 117.07,224.92 117.20,224.91 117.32,224.91 117.44,224.90 117.57,224.90 117.69,224.89 117.81,224.88 117.94,224.88 118.06,224.87 118.18,224.87 118.31,224.86 118.43,224.85 118.55,224.85 118.68,224.84 118.80,224.84 118.92,224.83 119.05,224.82 119.17,224.82 119.29,224.81 119.42,224.80 119.54,224.80 119.66,224.79 119.79,224.78 119.91,224.78 120.03,224.77 120.16,224.77 120.28,224.76 120.40,224.75 120.53,224.75 120.65,224.74 120.77,224.73 120.90,224.73 121.02,224.72 121.14,224.71 121.27,224.71 121.39,224.70 121.51,224.69 121.64,224.69 121.76,224.68 121.88,224.67 122.01,224.67 122.13,224.66 122.25,224.65 122.38,224.65 122.50,224.64 122.62,224.63 122.75,224.62 122.87,224.62 122.99,224.61 123.12,224.60 123.24,224.60 123.36,224.59 123.49,224.58 123.61,224.58 123.73,224.57 123.86,224.56 123.98,224.55 124.10,224.55 124.23,224.54 124.35,224.53 124.47,224.53 124.60,224.52 124.72,224.51 124.84,224.50 124.97,224.50 125.09,224.49 125.21,224.48 125.34,224.47 125.46,224.47 125.58,224.46 125.71,224.45 125.83,224.44 125.95,224.44 126.08,224.43 126.20,224.42 126.32,224.41 126.45,224.41 126.57,224.40 126.69,224.39 126.82,224.38 126.94,224.37 127.06,224.37 127.19,224.36 127.31,224.35 127.43,224.34 127.56,224.34 127.68,224.33 127.80,224.32 127.93,224.31 128.05,224.30 128.17,224.30 128.30,224.29 128.42,224.28 128.54,224.27 128.67,224.26 128.79,224.25 128.91,224.25 129.04,224.24 129.16,224.23 129.28,224.22 129.41,224.21 129.53,224.20 129.65,224.20 129.78,224.19 129.90,224.18 130.02,224.17 130.15,224.16 130.27,224.15 130.39,224.15 130.52,224.14 130.64,224.13 130.76,224.12 130.89,224.11 131.01,224.10 131.13,224.09 131.26,224.08 131.38,224.08 131.50,224.07 131.63,224.06 131.75,224.05 131.87,224.04 132.00,224.03 132.12,224.02 132.24,224.01 132.37,224.00 132.49,223.99 132.61,223.99 132.74,223.98 132.86,223.97 132.98,223.96 133.11,223.95 133.23,223.94 133.35,223.93 133.47,223.92 133.60,223.91 133.72,223.90 133.84,223.89 133.97,223.88 134.09,223.87 134.21,223.86 134.34,223.85 134.46,223.84 134.58,223.83 134.71,223.82 134.83,223.81 134.95,223.80 135.08,223.79 135.20,223.78 135.32,223.77 135.45,223.76 135.57,223.75 135.69,223.74 135.82,223.73 135.94,223.72 136.06,223.71 136.19,223.70 136.31,223.69 136.43,223.68 136.56,223.67 136.68,223.66 136.80,223.65 136.93,223.64 137.05,223.63 137.17,223.62 137.30,223.61 137.42,223.60 137.54,223.59 137.67,223.58 137.79,223.57 137.91,223.56 138.04,223.55 138.16,223.53 138.28,223.52 138.41,223.51 138.53,223.50 138.65,223.49 138.78,223.48 138.90,223.47 139.02,223.46 139.15,223.45 139.27,223.44 139.39,223.42 139.52,223.41 139.64,223.40 139.76,223.39 139.89,223.38 140.01,223.37 140.13,223.36 140.26,223.34 140.38,223.33 140.50,223.32 140.63,223.31 140.75,223.30 140.87,223.28 141.00,223.27 141.12,223.26 141.24,223.25 141.37,223.24 141.49,223.22 141.61,223.21 141.74,223.20 141.86,223.19 141.98,223.18 142.11,223.16 142.23,223.15 142.35,223.14 142.48,223.13 142.60,223.11 142.72,223.10 142.85,223.09 142.97,223.08 143.09,223.06 143.22,223.05 143.34,223.04 143.46,223.02 143.59,223.01 143.71,223.00 143.83,222.99 143.96,222.97 144.08,222.96 144.20,222.95 144.33,222.93 144.45,222.92 144.57,222.91 144.70,222.89 144.82,222.88 144.94,222.86 145.07,222.85 145.19,222.84 145.31,222.82 145.44,222.81 145.56,222.80 145.68,222.78 145.81,222.77 145.93,222.75 146.05,222.74 146.18,222.73 146.30,222.71 146.42,222.70 146.55,222.68 146.67,222.67 146.79,222.65 146.92,222.64 147.04,222.62 147.16,222.61 147.29,222.60 147.41,222.58 147.53,222.57 147.66,222.55 147.78,222.54 147.90,222.52 148.03,222.51 148.15,222.49 148.27,222.48 148.40,222.46 148.52,222.44 148.64,222.43 148.77,222.41 148.89,222.40 149.01,222.38 149.14,222.37 149.26,222.35 149.38,222.33 149.51,222.32 149.63,222.30 149.75,222.29 149.88,222.27 150.00,222.25 150.12,222.24 150.25,222.22 150.37,222.20 150.49,222.19 150.62,222.17 150.74,222.15 150.86,222.14 150.99,222.12 151.11,222.10 151.23,222.09 151.36,222.07 151.48,222.05 151.60,222.04 151.73,222.02 151.85,222.00 151.97,221.98 152.10,221.97 152.22,221.95 152.34,221.93 152.46,221.91 152.59,221.89 152.71,221.88 152.83,221.86 152.96,221.84 153.08,221.82 153.20,221.80 153.33,221.78 153.45,221.77 153.57,221.75 153.70,221.73 153.82,221.71 153.94,221.69 154.07,221.67 154.19,221.65 154.31,221.63 154.44,221.61 154.56,221.60 154.68,221.58 154.81,221.56 154.93,221.54 155.05,221.52 155.18,221.50 155.30,221.48 155.42,221.46 155.55,221.44 155.67,221.42 155.79,221.40 155.92,221.38 156.04,221.35 156.16,221.33 156.29,221.31 156.41,221.29 156.53,221.27 156.66,221.25 156.78,221.23 156.90,221.21 157.03,221.19 157.15,221.16 157.27,221.14 157.40,221.12 157.52,221.10 157.64,221.08 157.77,221.06 157.89,221.03 158.01,221.01 158.14,220.99 158.26,220.97 158.38,220.94 158.51,220.92 158.63,220.90 158.75,220.87 158.88,220.85 159.00,220.83 159.12,220.80 159.25,220.78 159.37,220.76 159.49,220.73 159.62,220.71 159.74,220.69 159.86,220.66 159.99,220.64 160.11,220.61 160.23,220.59 160.36,220.56 160.48,220.54 160.60,220.51 160.73,220.49 160.85,220.46 160.97,220.44 161.10,220.41 161.22,220.39 161.34,220.36 161.47,220.33 161.59,220.31 161.71,220.28 161.84,220.26 161.96,220.23 162.08,220.20 162.21,220.18 162.33,220.15 162.45,220.12 162.58,220.09 162.70,220.07 162.82,220.04 162.95,220.01 163.07,219.98 163.19,219.96 163.32,219.93 163.44,219.90 163.56,219.87 163.69,219.84 163.81,219.81 163.93,219.78 164.06,219.76 164.18,219.73 164.30,219.70 164.43,219.67 164.55,219.64 164.67,219.61 164.80,219.58 164.92,219.55 165.04,219.52 165.17,219.48 165.29,219.45 165.41,219.42 165.54,219.39 165.66,219.36 165.78,219.33 165.91,219.30 166.03,219.26 166.15,219.23 166.28,219.20 166.40,219.17 166.52,219.13 166.65,219.10 166.77,219.07 166.89,219.03 167.02,219.00 167.14,218.97 167.26,218.93 167.39,218.90 167.51,218.86 167.63,218.83 167.76,218.79 167.88,218.76 168.00,218.72 168.13,218.69 168.25,218.65 168.37,218.62 168.50,218.58 168.62,218.55 168.74,218.51 168.87,218.47 168.99,218.43 169.11,218.40 169.24,218.36 169.36,218.32 169.48,218.28 169.61,218.25 169.73,218.21 169.85,218.17 169.98,218.13 170.10,218.09 170.22,218.05 170.35,218.01 170.47,217.97 170.59,217.93 170.72,217.89 170.84,217.85 170.96,217.81 171.09,217.77 171.21,217.73 171.33,217.69 171.45,217.64 171.58,217.60 171.70,217.56 171.82,217.52 171.95,217.47 172.07,217.43 172.19,217.39 172.32,217.34 172.44,217.30 172.56,217.25 172.69,217.21 172.81,217.17 172.93,217.12 173.06,217.07 173.18,217.03 173.30,216.98 173.43,216.94 173.55,216.89 173.67,216.84 173.80,216.80 173.92,216.75 174.04,216.70 174.17,216.65 174.29,216.60 174.41,216.55 174.54,216.51 174.66,216.46 174.78,216.41 174.91,216.36 175.03,216.31 175.15,216.25 175.28,216.20 175.40,216.15 175.52,216.10 175.65,216.05 175.77,216.00 175.89,215.94 176.02,215.89 176.14,215.84 176.26,215.78 176.39,215.73 176.51,215.67 176.63,215.62 176.76,215.56 176.88,215.51 177.00,215.45 177.13,215.40 177.25,215.34 177.37,215.28 177.50,215.23 177.62,215.17 177.74,215.11 177.87,215.05 177.99,214.99 178.11,214.93 178.24,214.87 178.36,214.81 178.48,214.75 178.61,214.69 178.73,214.63 178.85,214.57 178.98,214.51 179.10,214.44 179.22,214.38 179.35,214.32 179.47,214.25 179.59,214.19 179.72,214.13 179.84,214.06 179.96,214.00 180.09,213.93 180.21,213.86 180.33,213.80 180.46,213.73 180.58,213.66 180.70,213.59 180.83,213.53 180.95,213.46 181.07,213.39 181.20,213.32 181.32,213.25 181.44,213.18 181.57,213.11 181.69,213.03 181.81,212.96 181.94,212.89 182.06,212.82 182.18,212.74 182.31,212.67 182.43,212.60 182.55,212.52 182.68,212.44 182.80,212.37 182.92,212.29 183.05,212.22 183.17,212.14 183.29,212.06 183.42,211.98 183.54,211.90 183.66,211.82 183.79,211.74 183.91,211.66 184.03,211.58 184.16,211.50 184.28,211.42 184.40,211.34 184.53,211.25 184.65,211.17 184.77,211.09 184.90,211.00 185.02,210.92 185.14,210.83 185.27,210.74 185.39,210.66 185.51,210.57 185.64,210.48 185.76,210.39 185.88,210.30 186.01,210.21 186.13,210.12 186.25,210.03 186.38,209.94 186.50,209.85 186.62,209.76 186.75,209.66 186.87,209.57 186.99,209.47 187.12,209.38 187.24,209.28 187.36,209.19 187.49,209.09 187.61,208.99 187.73,208.90 187.86,208.80 187.98,208.70 188.10,208.60 188.23,208.50 188.35,208.40 188.47,208.29 188.60,208.19 188.72,208.09 188.84,207.99 188.97,207.88 189.09,207.78 189.21,207.67 189.34,207.56 189.46,207.46 189.58,207.35 189.71,207.24 189.83,207.13 189.95,207.02 190.08,206.91 190.20,206.80 190.32,206.69 190.44,206.58 190.57,206.47 190.69,206.35 190.81,206.24 190.94,206.12 191.06,206.01 191.18,205.89 191.31,205.77 191.43,205.66 191.55,205.54 191.68,205.42 191.80,205.30 191.92,205.18 192.05,205.06 192.17,204.93 192.29,204.81 192.42,204.69 192.54,204.56 192.66,204.44 192.79,204.31 192.91,204.19 193.03,204.06 193.16,203.93 193.28,203.80 193.40,203.67 193.53,203.54 193.65,203.41 193.77,203.28 193.90,203.15 194.02,203.02 194.14,202.88 194.27,202.75 194.39,202.61 194.51,202.48 194.64,202.34 194.76,202.20 194.88,202.06 195.01,201.93 195.13,201.79 195.25,201.65 195.38,201.50 195.50,201.36 195.62,201.22 195.75,201.07 195.87,200.93 195.99,200.78 196.12,200.64 196.24,200.49 196.36,200.34 196.49,200.20 196.61,200.05 196.73,199.90 196.86,199.75 196.98,199.59 197.10,199.44 197.23,199.29 197.35,199.13 197.47,198.98 197.60,198.82 197.72,198.67 197.84,198.51 197.97,198.35 198.09,198.19 198.21,198.03 198.34,197.87 198.46,197.71 198.58,197.55 198.71,197.39 198.83,197.22 198.95,197.06 199.08,196.89 199.20,196.73 199.32,196.56 199.45,196.39 199.57,196.22 199.69,196.05 199.82,195.88 199.94,195.71 200.06,195.54 200.19,195.37 200.31,195.20 200.43,195.02 200.56,194.85 200.68,194.67 200.80,194.50 200.93,194.32 201.05,194.14 201.17,193.96 201.30,193.78 201.42,193.60 201.54,193.42 201.67,193.24 201.79,193.06 201.91,192.87 202.04,192.69 202.16,192.50 202.28,192.32 202.41,192.13 202.53,191.94 202.65,191.76 202.78,191.57 202.90,191.38 203.02,191.19 203.15,191.00 203.27,190.81 203.39,190.61 203.52,190.42 203.64,190.23 203.76,190.03 203.89,189.84 204.01,189.64 204.13,189.44 204.26,189.25 204.38,189.05 204.50,188.85 204.63,188.65 204.75,188.45 204.87,188.25 205.00,188.05 205.12,187.85 205.24,187.65 205.37,187.44 205.49,187.24 205.61,187.03 205.74,186.83 205.86,186.62 205.98,186.42 206.11,186.21 206.23,186.00 206.35,185.80 206.48,185.59 206.60,185.38 206.72,185.17 206.85,184.96 206.97,184.75 207.09,184.54 207.22,184.33 207.34,184.12 207.46,183.91 207.59,183.69 207.71,183.48 207.83,183.27 207.96,183.05 208.08,182.84 208.20,182.63 208.33,182.41 208.45,182.20 208.57,181.98 208.70,181.77 208.82,181.55 208.94,181.33 209.07,181.12 209.19,180.90 209.31,180.68 209.43,180.47 209.56,180.25 209.68,180.03 209.80,179.82 209.93,179.60 210.05,179.38 210.17,179.16 210.30,178.95 210.42,178.73 210.54,178.51 210.67,178.29 210.79,178.08 210.91,177.86 211.04,177.64 211.16,177.42 211.28,177.21 211.41,176.99 211.53,176.77 211.65,176.56 211.78,176.34 211.90,176.12 212.02,175.91 212.15,175.69 212.27,175.48 212.39,175.26 212.52,175.05 212.64,174.83 212.76,174.62 212.89,174.41 213.01,174.19 213.13,173.98 213.26,173.77 213.38,173.56 213.50,173.35 213.63,173.14 213.75,172.93 213.87,172.72 214.00,172.51 214.12,172.31 214.24,172.10 214.37,171.90 214.49,171.69 214.61,171.49 214.74,171.29 214.86,171.08 214.98,170.88 215.11,170.68 215.23,170.49 215.35,170.29 215.48,170.09 215.60,169.90 215.72,169.70 215.85,169.51 215.97,169.32 216.09,169.13 216.22,168.94 216.34,168.75 216.46,168.57 216.59,168.38 216.71,168.20 216.83,168.02 216.96,167.84 217.08,167.66 217.20,167.48 217.33,167.31 217.45,167.13 217.57,166.96 217.70,166.79 217.82,166.63 217.94,166.46 218.07,166.29 218.19,166.13 218.31,165.97 218.44,165.81 218.56,165.66 218.68,165.50 218.81,165.35 218.93,165.20 219.05,165.05 219.18,164.91 219.30,164.76 219.42,164.62 219.55,164.48 219.67,164.34 219.79,164.21 219.92,164.08 220.04,163.95 220.16,163.82 220.29,163.70 220.41,163.57 220.53,163.46 220.66,163.34 220.78,163.22 220.90,163.11 221.03,163.00 221.15,162.90 221.27,162.79 221.40,162.69 221.52,162.59 221.64,162.50 221.77,162.41 221.89,162.32 222.01,162.23 222.14,162.15 222.26,162.06 222.38,161.99 222.51,161.91 222.63,161.84 222.75,161.77 222.88,161.70 223.00,161.64 223.12,161.58 223.25,161.52 223.37,161.47 223.49,161.42 223.62,161.37 223.74,161.33 223.86,161.28 223.99,161.25 224.11,161.21 224.23,161.18 224.36,161.15 224.48,161.12 224.60,161.10 224.73,161.08 224.85,161.07 224.97,161.05 225.10,161.04 225.22,161.04 225.34,161.04 225.47,161.04 225.59,161.04 225.71,161.05 225.84,161.06 225.96,161.07 226.08,161.08 226.21,161.10 226.33,161.13 226.45,161.15 226.58,161.18 226.70,161.21 226.82,161.25 226.95,161.29 227.07,161.33 227.19,161.37 227.32,161.42 227.44,161.47 227.56,161.53 227.69,161.58 227.81,161.64 227.93,161.71 228.06,161.77 228.18,161.84 228.30,161.92 228.42,161.99 228.55,162.07 228.67,162.15 228.79,162.23 228.92,162.32 229.04,162.41 229.16,162.50 229.29,162.60 229.41,162.70 229.53,162.80 229.66,162.90 229.78,163.01 229.90,163.12 230.03,163.23 230.15,163.35 230.27,163.46 230.40,163.58 230.52,163.70 230.64,163.83 230.77,163.96 230.89,164.09 231.01,164.22 231.14,164.35 231.26,164.49 231.38,164.63 231.51,164.77 231.63,164.91 231.75,165.06 231.88,165.21 232.00,165.36 232.12,165.51 232.25,165.67 232.37,165.82 232.49,165.98 232.62,166.14 232.74,166.30 232.86,166.47 232.99,166.64 233.11,166.80 233.23,166.97 233.36,167.15 233.48,167.32 233.60,167.49 233.73,167.67 233.85,167.85 233.97,168.03 234.10,168.21 234.22,168.39 234.34,168.58 234.47,168.76 234.59,168.95 234.71,169.14 234.84,169.33 234.96,169.52 235.08,169.71 235.21,169.91 235.33,170.10 235.45,170.30 235.58,170.50 235.70,170.70 235.82,170.90 235.95,171.10 236.07,171.30 236.19,171.50 236.32,171.70 236.44,171.91 236.56,172.11 236.69,172.32 236.81,172.53 236.93,172.73 237.06,172.94 237.18,173.15 237.30,173.36 237.43,173.57 237.55,173.78 237.67,173.99 237.80,174.21 237.92,174.42 238.04,174.63 238.17,174.85 238.29,175.06 238.41,175.28 238.54,175.49 238.66,175.71 238.78,175.92 238.91,176.14 239.03,176.35 239.15,176.57 239.28,176.79 239.40,177.00 239.52,177.22 239.65,177.44 239.77,177.65 239.89,177.87 240.02,178.09 240.14,178.31 240.26,178.52 240.39,178.74 240.51,178.96 240.63,179.18 240.76,179.39 240.88,179.61 241.00,179.83 241.13,180.05 241.25,180.26 241.37,180.48 241.50,180.70 241.62,180.91 241.74,181.13 241.87,181.35 241.99,181.56 242.11,181.78 242.24,181.99 242.36,182.21 242.48,182.42 242.61,182.64 242.73,182.85 242.85,183.07 242.98,183.28 243.10,183.49 243.22,183.71 243.35,183.92 243.47,184.13 243.59,184.34 243.72,184.55 243.84,184.76 243.96,184.97 244.09,185.18 244.21,185.39 244.33,185.60 244.46,185.81 244.58,186.02 244.70,186.22 244.83,186.43 244.95,186.64 245.07,186.84 245.20,187.05 245.32,187.25 245.44,187.45 245.57,187.66 245.69,187.86 245.81,188.06 245.94,188.26 246.06,188.46 246.18,188.66 246.31,188.86 246.43,189.06 246.55,189.26 246.68,189.46 246.80,189.65 246.92,189.85 247.05,190.04 247.17,190.24 247.29,190.43 247.41,190.62 247.54,190.82 247.66,191.01 247.78,191.20 247.91,191.39 248.03,191.58 248.15,191.77 248.28,191.96 248.40,192.14 248.52,192.33 248.65,192.51 248.77,192.70 248.89,192.88 249.02,193.07 249.14,193.25 249.26,193.43 249.39,193.61 249.51,193.79 249.63,193.97 249.76,194.15 249.88,194.33 250.00,194.51 250.13,194.68 250.25,194.86 250.37,195.03 250.50,195.21 250.62,195.38 250.74,195.55 250.87,195.72 250.99,195.90 251.11,196.07 251.24,196.23 251.36,196.40 251.48,196.57 251.61,196.74 251.73,196.90 251.85,197.07 251.98,197.23 252.10,197.40 252.22,197.56 252.35,197.72 252.47,197.88 252.59,198.04 252.72,198.20 252.84,198.36 252.96,198.52 253.09,198.68 253.21,198.83 253.33,198.99 253.46,199.14 253.58,199.30 253.70,199.45 253.83,199.60 253.95,199.75 254.07,199.91 254.20,200.06 254.32,200.20 254.44,200.35 254.57,200.50 254.69,200.65 254.81,200.79 254.94,200.94 255.06,201.08 255.18,201.23 255.31,201.37 255.43,201.51 255.55,201.65 255.68,201.79 255.80,201.93 255.92,202.07 256.05,202.21 256.17,202.35 256.29,202.49 256.42,202.62 256.54,202.76 256.66,202.89 256.79,203.03 256.91,203.16 257.03,203.29 257.16,203.42 257.28,203.55 257.40,203.68 257.53,203.81 257.65,203.94 257.77,204.07 257.90,204.20 258.02,204.32 258.14,204.45 258.27,204.57 258.39,204.70 258.51,204.82 258.64,204.94 258.76,205.06 258.88,205.19 259.01,205.31 259.13,205.43 259.25,205.54 259.38,205.66 259.50,205.78 259.62,205.90 259.75,206.01 259.87,206.13 259.99,206.24 260.12,206.36 260.24,206.47 260.36,206.59 260.49,206.70 260.61,206.81 260.73,206.92 260.86,207.03 260.98,207.14 261.10,207.25 261.23,207.36 261.35,207.46 261.47,207.57 261.60,207.68 261.72,207.78 261.84,207.89 261.97,207.99 262.09,208.10 262.21,208.20 262.34,208.30 262.46,208.40 262.58,208.50 262.71,208.60 262.83,208.70 262.95,208.80 263.08,208.90 263.20,209.00 263.32,209.10 263.45,209.19 263.57,209.29 263.69,209.39 263.82,209.48 263.94,209.57 264.06,209.67 264.19,209.76 264.31,209.85 264.43,209.95 264.56,210.04 264.68,210.13 264.80,210.22 264.93,210.31 265.05,210.40 265.17,210.49 265.30,210.57 265.42,210.66 265.54,210.75 265.67,210.83 265.79,210.92 265.91,211.01 266.04,211.09 266.16,211.17 266.28,211.26 266.40,211.34 266.53,211.42 266.65,211.51 266.77,211.59 266.90,211.67 267.02,211.75 267.14,211.83 267.27,211.91 267.39,211.99 267.51,212.07 267.64,212.14 267.76,212.22 267.88,212.30 268.01,212.37 268.13,212.45 268.25,212.52 268.38,212.60 268.50,212.67 268.62,212.75 268.75,212.82 268.87,212.89 268.99,212.97 269.12,213.04 269.24,213.11 269.36,213.18 269.49,213.25 269.61,213.32 269.73,213.39 269.86,213.46 269.98,213.53 270.10,213.60 270.23,213.67 270.35,213.73 270.47,213.80 270.60,213.87 270.72,213.93 270.84,214.00 270.97,214.07 271.09,214.13 271.21,214.19 271.34,214.26 271.46,214.32 271.58,214.39 271.71,214.45 271.83,214.51 271.95,214.57 272.08,214.63 272.20,214.70 272.32,214.76 272.45,214.82 272.57,214.88 272.69,214.94 272.82,215.00 272.94,215.06 273.06,215.11 273.19,215.17 273.31,215.23 273.43,215.29 273.56,215.34 273.68,215.40 273.80,215.46 273.93,215.51 274.05,215.57 274.17,215.62 274.30,215.68 274.42,215.73 274.54,215.79 274.67,215.84 274.79,215.89 274.91,215.95 275.04,216.00 275.16,216.05 275.28,216.10 275.41,216.16 275.53,216.21 275.65,216.26 275.78,216.31 275.90,216.36 276.02,216.41 276.15,216.46 276.27,216.51 276.39,216.56 276.52,216.61 276.64,216.65 276.76,216.70 276.89,216.75 277.01,216.80 277.13,216.85 277.26,216.89 277.38,216.94 277.50,216.99 277.63,217.03 277.75,217.08 277.87,217.12 278.00,217.17 278.12,217.21 278.24,217.26 278.37,217.30 278.49,217.35 278.61,217.39 278.74,217.43 278.86,217.48 278.98,217.52 279.11,217.56 279.23,217.60 279.35,217.65 279.48,217.69 279.60,217.73 279.72,217.77 279.85,217.81 279.97,217.85 280.09,217.89 280.22,217.93 280.34,217.97 280.46,218.01 280.59,218.05 280.71,218.09 280.83,218.13 280.96,218.17 281.08,218.21 281.20,218.25 281.33,218.29 281.45,218.32 281.57,218.36 281.70,218.40 281.82,218.44 281.94,218.47 282.07,218.51 282.19,218.55 282.31,218.58 282.44,218.62 282.56,218.66 282.68,218.69 282.81,218.73 282.93,218.76 283.05,218.80 283.18,218.83 283.30,218.87 283.42,218.90 283.55,218.94 283.67,218.97 283.79,219.00 283.92,219.04 284.04,219.07 284.16,219.10 284.29,219.14 284.41,219.17 284.53,219.20 284.66,219.23 284.78,219.27 284.90,219.30 285.03,219.33 285.15,219.36 285.27,219.39 285.39,219.42 285.52,219.46 285.64,219.49 285.76,219.52 285.89,219.55 286.01,219.58 286.13,219.61 286.26,219.64 286.38,219.67 286.50,219.70 286.63,219.73 286.75,219.76 286.87,219.79 287.00,219.82 287.12,219.84 287.24,219.87 287.37,219.90 287.49,219.93 287.61,219.96 287.74,219.99 287.86,220.01 287.98,220.04 288.11,220.07 288.23,220.10 288.35,220.12 288.48,220.15 288.60,220.18 288.72,220.20 288.85,220.23 288.97,220.26 289.09,220.28 289.22,220.31 289.34,220.34 289.46,220.36 289.59,220.39 289.71,220.41 289.83,220.44 289.96,220.46 290.08,220.49 290.20,220.52 290.33,220.54 290.45,220.57 290.57,220.59 290.70,220.61 290.82,220.64 290.94,220.66 291.07,220.69 291.19,220.71 291.31,220.74 291.44,220.76 291.56,220.78 291.68,220.81 291.81,220.83 291.93,220.85 292.05,220.88 292.18,220.90 292.30,220.92 292.42,220.94 292.55,220.97 292.67,220.99 292.79,221.01 292.92,221.03 293.04,221.06 293.16,221.08 293.29,221.10 293.41,221.12 293.53,221.14 293.66,221.17 293.78,221.19 293.90,221.21 294.03,221.23 294.15,221.25 294.27,221.27 294.40,221.29 294.52,221.31 294.64,221.34 294.77,221.36 294.89,221.38 295.01,221.40 295.14,221.42 295.26,221.44 295.38,221.46 295.51,221.48 295.63,221.50 295.75,221.52 295.88,221.54 296.00,221.56 296.12,221.58 296.25,221.60 296.37,221.62 296.49,221.64 296.62,221.65 296.74,221.67 296.86,221.69 296.99,221.71 297.11,221.73 297.23,221.75 297.36,221.77 297.48,221.79 297.60,221.80 297.73,221.82 297.85,221.84 297.97,221.86 298.10,221.88 298.22,221.90 298.34,221.91 298.47,221.93 298.59,221.95 298.71,221.97 298.84,221.98 298.96,222.00 299.08,222.02 299.21,222.04 299.33,222.05 299.45,222.07 299.58,222.09 299.70,222.11 299.82,222.12 299.95,222.14 300.07,222.16 300.19,222.17 300.32,222.19 300.44,222.21 300.56,222.22 300.69,222.24 300.81,222.25 300.93,222.27 301.06,222.29 301.18,222.30 301.30,222.32 301.43,222.34 301.55,222.35 301.67,222.37 301.80,222.38 301.92,222.40 302.04,222.41 302.17,222.43 302.29,222.45 302.41,222.46 302.54,222.48 302.66,222.49 302.78,222.51 302.91,222.52 303.03,222.54 303.15,222.55 303.28,222.57 303.40,222.58 303.52,222.60 303.65,222.61 303.77,222.63 303.89,222.64 304.02,222.65 304.14,222.67 304.26,222.68 304.38,222.70 304.51,222.71 304.63,222.73 304.75,222.74 304.88,222.76 305.00,222.77 305.12,222.78 305.25,222.80 305.37,222.81 305.49,222.82 305.62,222.84 305.74,222.85 305.86,222.87 305.99,222.88 306.11,222.89 306.23,222.91 306.36,222.92 306.48,222.93 306.60,222.95 306.73,222.96 306.85,222.97 306.97,222.99 307.10,223.00 307.22,223.01 307.34,223.03 307.47,223.04 307.59,223.05 307.71,223.06 307.84,223.08 307.96,223.09 308.08,223.10 308.21,223.11 308.33,223.13 308.45,223.14 308.58,223.15 308.70,223.16 308.82,223.18 308.95,223.19 309.07,223.20 309.19,223.21 309.32,223.23 309.44,223.24 309.56,223.25 309.69,223.26 309.81,223.27 309.93,223.29 310.06,223.30 310.18,223.31 310.30,223.32 310.43,223.33 310.55,223.34 310.67,223.36 310.80,223.37 310.92,223.38 311.04,223.39 311.17,223.40 311.29,223.41 311.41,223.42 311.54,223.44 311.66,223.45 311.78,223.46 311.91,223.47 312.03,223.48 312.15,223.49 312.28,223.50 312.40,223.51 312.52,223.52 312.65,223.54 312.77,223.55 312.89,223.56 313.02,223.57 313.14,223.58 313.26,223.59 313.39,223.60 313.51,223.61 313.63,223.62 313.76,223.63 313.88,223.64 314.00,223.65 314.13,223.66 314.25,223.67 314.37,223.68 314.50,223.69 314.62,223.70 314.74,223.71 314.87,223.72 314.99,223.74 315.11,223.75 315.24,223.76 315.36,223.77 315.48,223.78 315.61,223.79 315.73,223.80 315.85,223.80 315.98,223.81 316.10,223.82 316.22,223.83 316.35,223.84 316.47,223.85 316.59,223.86 316.72,223.87 316.84,223.88 316.96,223.89 317.09,223.90 317.21,223.91 317.33,223.92 317.46,223.93 317.58,223.94 317.70,223.95 317.83,223.96 317.95,223.97 318.07,223.98 318.20,223.99 318.32,223.99 318.44,224.00 318.57,224.01 318.69,224.02 318.81,224.03 318.94,224.04 319.06,224.05 319.18,224.06 319.31,224.07 319.43,224.08 319.55,224.08 319.68,224.09 319.80,224.10 319.92,224.11 320.05,224.12 320.17,224.13 320.29,224.14 320.42,224.15 320.54,224.15 320.66,224.16 320.79,224.17 320.91,224.18 321.03,224.19 321.16,224.20 321.28,224.21 321.40,224.21 321.53,224.22 321.65,224.23 321.77,224.24 321.90,224.25 322.02,224.25 322.14,224.26 322.27,224.27 322.39,224.28 322.51,224.29 322.64,224.30 322.76,224.30 322.88,224.31 323.01,224.32 323.13,224.33 323.25,224.34 323.37,224.34 323.50,224.35 323.62,224.36 323.74,224.37 323.87,224.38 323.99,224.38 324.11,224.39 324.24,224.40 324.36,224.41 324.48,224.41 324.61,224.42 324.73,224.43 324.85,224.44 324.98,224.44 325.10,224.45 325.22,224.46 325.35,224.47 325.47,224.47 325.59,224.48 325.72,224.49 325.84,224.50 325.96,224.50 326.09,224.51 326.21,224.52 326.33,224.53 326.46,224.53 326.58,224.54 326.70,224.55 326.83,224.55 326.95,224.56 327.07,224.57 327.20,224.58 327.32,224.58 327.44,224.59 327.57,224.60 327.69,224.60 327.81,224.61 327.94,224.62 328.06,224.63 328.18,224.63 328.31,224.64 328.43,224.65 328.55,224.65 328.68,224.66 328.80,224.67 328.92,224.67 329.05,224.68 329.17,224.69 329.29,224.69 329.42,224.70 329.54,224.71 329.66,224.71 329.79,224.72 329.91,224.73 330.03,224.73 330.16,224.74 330.28,224.75 330.40,224.75 330.53,224.76 330.65,224.77 330.77,224.77 330.90,224.78 331.02,224.79 331.14,224.79 331.27,224.80 331.39,224.80 331.51,224.81 331.64,224.82 331.76,224.82 331.88,224.83 332.01,224.84 332.13,224.84 332.25,224.85 332.38,224.85 332.50,224.86" fill="none" stroke="#ff0000" stroke-width="1.0" stroke-opacity="1.0" stroke-linejoin="round"/>
<polyline points="72.50,362.89 72.81,363.84 73.11,363.62 73.42,361.30 73.73,361.07 74.03,358.77 74.34,358.85 74.65,361.97 74.95,361.81 75.26,359.07 75.56,361.33 75.87,365.81 76.18,361.88 76.48,363.09 76.79,364.58 77.10,359.94 77.40,357.00 77.71,361.50 78.02,362.21 78.32,360.70 78.63,362.75 78.94,362.87 79.24,363.47 79.55,361.32 79.86,360.96 80.16,363.28 80.47,361.86 80.77,359.64 81.08,361.11 81.39,359.28 81.69,363.17 82.00,359.78 82.31,364.96 82.61,361.14 82.92,357.92 83.23,359.26 83.53,363.40 83.84,363.57 84.15,360.03 84.45,367.26 84.76,365.80 85.07,360.26 85.37,363.93 85.68,362.04 85.99,362.55 86.29,359.32 86.60,365.29 86.90,364.06 87.21,361.72 87.52,362.55 87.82,362.83 88.13,361.58 88.44,362.46 88.74,361.25 89.05,362.46 89.36,365.88 89.66,363.76 89.97,358.53 90.28,360.72 90.58,363.07 90.89,362.34 91.20,359.50 91.50,354.43 91.81,357.92 92.11,354.49 92.42,362.30 92.73,363.50 93.03,365.76 93.34,362.54 93.65,364.09 93.95,365.17 94.26,362.39 94.57,361.97 94.87,364.20 95.18,364.27 95.49,358.51 95.79,359.95 96.10,363.88 96.41,363.81 96.71,362.19 97.02,360.47 97.32,362.11 97.63,363.04 97.94,360.58 98.24,362.47 98.55,364.04 98.86,363.95 99.16,365.73 99.47,361.53 99.78,359.52 100.08,361.99 100.39,361.64 100.70,360.52 101.00,361.50 101.31,362.60 101.62,357.77 101.92,355.49 102.23,360.55 102.53,361.35 102.84,362.92 103.15,357.52 103.45,364.18 103.76,363.19 104.07,362.70 104.37,364.12 104.68,360.96 104.99,356.16 105.29,362.18 105.60,361.64 105.91,362.23 106.21,359.37 106.52,360.67 106.83,360.29 107.13,361.65 107.44,360.07 107.74,359.88 108.05,359.79 108.36,357.64 108.66,362.11 108.97,363.78 109.28,364.96 109.58,356.74 109.89,359.99 110.20,360.16 110.50,363.33 110.81,359.34 111.12,358.33 111.42,359.51 111.73,357.45 112.04,360.17 112.34,357.81 112.65,355.82 112.96,354.20 113.26,362.03 113.57,357.73 113.87,361.31 114.18,358.10 114.49,358.74 114.79,359.73 115.10,358.24 115.41,355.50 115.71,363.01 116.02,358.62 116.33,362.14 116.63,357.67 116.94,361.49 117.25,358.24 117.55,361.50 117.86,358.04 118.17,365.23 118.47,358.97 118.78,360.17 119.08,353.83 119.39,361.82 119.70,358.32 120.00,360.51 120.31,356.12 120.62,358.52 120.92,357.32 121.23,357.04 121.54,369.28 121.84,355.92 122.15,358.05 122.46,362.18 122.76,357.35 123.07,349.18 123.38,355.59 123.68,360.84 123.99,363.85 124.29,359.06 124.60,359.68 124.91,357.26 125.21,365.01 125.52,357.66 125.83,358.39 126.13,355.22 126.44,358.69 126.75,365.67 127.05,354.30 127.36,358.11 127.67,359.11 127.97,355.04 128.28,352.10 128.59,354.49 128.89,357.16 129.20,357.75 129.50,356.12 129.81,353.51 130.12,354.81 130.42,363.81 130.73,356.89 131.04,362.20 131.34,359.91 131.65,361.40 131.96,357.40 132.26,355.01 132.57,355.24 132.88,354.36 133.18,356.54 133.49,360.60 133.80,356.07 134.10,357.34 134.41,357.63 134.72,358.74 135.02,355.81 135.33,354.78 135.63,358.74 135.94,359.09 136.25,360.63 136.55,361.17 136.86,353.05 137.17,356.64 137.47,351.37 137.78,357.80 138.09,350.16 138.39,353.10 138.70,354.73 139.01,358.91 139.31,354.11 139.62,348.54 139.93,357.99 140.23,357.53 140.54,349.12 140.84,345.87 141.15,349.94 141.46,361.27 141.76,355.31 142.07,352.64 142.38,353.21 142.68,344.68 142.99,352.67 143.30,356.38 143.60,344.70 143.91,345.21 144.22,343.20 144.52,350.17 144.83,342.52 145.14,360.02 145.44,339.13 145.75,345.47 146.05,351.68 146.36,348.08 146.67,347.92 146.97,348.04 147.28,360.32 147.59,343.06 147.89,345.30 148.20,343.23 148.51,338.49 148.81,354.69 149.12,341.98 149.43,340.78 149.73,341.05 150.04,353.85 150.35,343.99 150.65,353.88 150.96,328.98 151.26,336.71 151.57,339.83 151.88,339.54 152.18,345.33 152.49,332.98 152.80,334.95 153.10,341.00 153.41,334.68 153.72,326.72 154.02,334.64 154.33,325.27 154.64,337.13 154.94,321.70 155.25,332.03 155.56,329.21 155.86,322.53 156.17,325.64 156.48,320.39 156.78,332.16 157.09,317.35 157.39,337.27 157.70,321.06 158.01,326.88 158.31,330.82 158.62,323.78 158.93,317.34 159.23,319.69 159.54,320.90 159.85,321.72 160.15,317.67 160.46,314.17 160.77,317.21 161.07,322.34 161.38,310.78 161.69,311.40 161.99,310.70 162.30,310.01 162.60,312.25 162.91,316.70 163.22,312.00 163.52,312.02 163.83,308.70 164.14,311.99 164.44,308.50 164.75,307.59 165.06,311.57 165.36,308.38 165.67,304.09 165.98,307.70 166.28,313.88 166.59,304.69 166.90,308.82 167.20,307.72 167.51,306.70 167.81,309.46 168.12,306.38 168.43,305.96 168.73,312.49 169.04,304.80 169.35,303.67 169.65,307.17 169.96,301.44 170.27,304.10 170.57,306.55 170.88,305.95 171.19,299.37 171.49,299.19 171.80,302.23 172.11,298.43 172.41,300.36 172.72,305.57 173.02,305.75 173.33,299.73 173.64,302.76 173.94,298.71 174.25,299.29 174.56,299.60 174.86,302.12 175.17,299.79 175.48,299.23 175.78,304.12 176.09,299.87 176.40,307.37 176.70,307.25 177.01,319.49 177.32,300.44 177.62,297.07 177.93,303.46 178.23,308.15 178.54,305.84 178.85,304.02 179.15,302.97 179.46,299.62 179.77,305.20 180.07,303.21 180.38,303.18 180.69,304.45 180.99,304.21 181.30,301.68 181.61,302.67 181.91,301.51 182.22,303.78 182.53,300.33 182.83,308.05 183.14,304.99 183.45,305.68 183.75,304.31 184.06,306.18 184.36,303.93 184.67,340.96 184.98,303.24 185.28,308.01 185.59,308.85 185.90,328.07 186.20,319.03 186.51,308.04 186.82,309.63 187.12,307.60 187.43,307.89 187.74,310.63 188.04,309.45 188.35,317.04 188.66,314.38 188.96,309.10 189.27,315.82 189.57,313.47 189.88,308.87 190.19,321.16 190.49,322.55 190.80,330.84 191.11,315.81 191.41,307.76 191.72,318.91 192.03,316.26 192.33,317.99 192.64,318.97 192.95,320.68 193.25,320.24 193.56,321.10 193.87,314.38 194.17,325.41 194.48,323.84 194.78,325.32 195.09,322.12 195.40,330.09 195.70,336.47 196.01,326.06 196.32,331.88 196.62,327.57 196.93,333.04 197.24,329.41 197.54,325.78 197.85,332.87 198.16,333.55 198.46,339.83 198.77,330.57 199.08,340.10 199.38,341.35 199.69,338.03 199.99,335.12 200.30,336.10 200.61,324.18 200.91,334.58 201.22,341.75 201.53,346.35 201.83,339.58 202.14,345.04 202.45,346.49 202.75,337.81 203.06,339.59 203.37,339.90 203.67,346.08 203.98,343.29 204.29,343.62 204.59,339.87 204.90,350.13 205.21,350.43 205.51,355.13 205.82,354.38 206.12,344.73 206.43,351.31 206.74,348.74 207.04,352.02 207.35,352.31 207.66,357.49 207.96,352.02 208.27,348.78 208.58,358.53 208.88,349.44 209.19,357.21 209.50,363.60 209.80,360.83 210.11,348.99 210.42,347.63 210.72,349.46 211.03,351.79 211.33,351.44 211.64,350.95 211.95,356.00 212.25,355.34 212.56,352.20 212.87,352.51 213.17,355.87 213.48,357.80 213.79,355.86 214.09,354.68 214.40,353.51 214.71,355.88 215.01,347.75 215.32,355.09 215.63,356.55 215.93,360.03 216.24,354.58 216.54,357.49 216.85,362.32 217.16,357.48 217.46,359.46 217.77,360.93 218.08,360.90 218.38,358.75 218.69,364.58 219.00,356.81 219.30,357.88 219.61,357.31 219.92,361.15 220.22,355.61 220.53,353.09 220.84,362.70 221.14,357.79 221.45,357.68 221.75,362.63 222.06,353.41 222.37,360.10 222.67,360.78 222.98,361.24 223.29,362.17 223.59,360.39 223.90,360.60 224.21,357.37 224.51,357.82 224.82,357.93 225.13,360.18 225.43,357.57 225.74,359.50 226.05,359.03 226.35,366.89 226.66,360.75 226.97,358.60 227.27,360.54 227.58,357.90 227.88,363.93 228.19,358.06 228.50,354.01 228.80,361.35 229.11,358.42 229.42,360.68 229.72,363.94 230.03,363.19 230.34,357.18 230.64,366.64 230.95,359.70 231.26,362.99 231.56,359.59 231.87,358.07 232.18,359.50 232.48,364.14 232.79,369.10 233.09,361.61 233.40,364.41 233.71,353.41 234.01,364.20 234.32,356.17 234.63,359.64 234.93,366.45 235.24,363.47 235.55,362.32 235.85,359.96 236.16,357.86 236.47,361.89 236.77,359.78 237.08,358.47 237.39,360.97 237.69,360.47 238.00,360.91 238.30,361.06 238.61,360.82 238.92,358.01 239.22,359.38 239.53,361.70 239.84,363.05 240.14,362.17 240.45,361.39 240.76,359.50 241.06,355.57 241.37,362.38 241.68,360.05 241.98,362.61 242.29,369.38 242.60,361.73 242.90,355.51 243.21,361.00 243.51,363.37 243.82,360.44 244.13,359.75 244.43,360.21 244.74,359.98 245.05,364.43 245.35,359.20 245.66,366.93 245.97,359.95 246.27,360.22 246.58,361.96 246.89,359.33 247.19,360.41 247.50,361.45 247.81,361.14 248.11,364.66 248.42,356.10 248.72,361.68 249.03,361.42 249.34,362.33 249.64,355.24 249.95,360.02 250.26,360.67 250.56,355.51 250.87,359.62 251.18,360.90 251.48,359.08 251.79,362.03 252.10,360.60 252.40,357.44 252.71,359.08 253.02,361.55 253.32,362.36 253.63,356.63 253.94,358.30 254.24,364.36 254.55,362.06 254.85,362.26 255.16,356.60 255.47,360.83 255.77,362.25 256.08,364.00 256.39,363.82 256.69,361.11 257.00,362.34 257.31,359.56 257.61,358.11 257.92,364.07 258.23,362.96 258.53,360.18 258.84,358.16 259.15,361.25 259.45,360.39 259.76,364.27 260.06,360.73 260.37,363.68 260.68,359.93 260.98,360.92 261.29,362.97 261.60,358.95 261.90,359.52 262.21,365.13 262.52,361.98 262.82,361.49 263.13,362.11 263.44,362.05 263.74,363.94 264.05,366.59 264.36,360.89 264.66,362.54 264.97,360.78 265.27,367.63 265.58,359.77 265.89,360.93 266.19,363.76 266.50,361.50 266.81,358.13 267.11,361.43 267.42,361.36 267.73,360.70 268.03,363.15 268.34,361.31 268.65,367.27 268.95,363.95 269.26,363.47 269.57,367.32 269.87,361.98 270.18,362.85 270.48,360.64 270.79,364.14 271.10,365.50 271.40,360.58 271.71,362.94 272.02,365.03 272.32,361.81 272.63,360.77 272.94,360.77 273.24,364.73 273.55,364.11 273.86,361.77 274.16,363.34 274.47,363.43 274.78,362.47 275.08,361.43 275.39,361.94 275.70,363.16 276.00,359.70 276.31,362.67 276.61,361.46 276.92,358.12 277.23,364.79 277.53,361.81 277.84,365.42 278.15,361.22 278.45,364.79 278.76,363.85 279.07,366.44 279.37,359.83 279.68,362.38 279.99,364.50 280.29,360.48 280.60,360.92 280.91,358.53 281.21,366.23 281.52,367.89 281.82,364.44 282.13,362.83 282.44,360.98 282.74,363.35 283.05,361.57 283.36,363.91 283.66,364.11 283.97,359.38 284.28,364.18 284.58,359.54 284.89,357.88 285.20,361.67 285.50,363.57 285.81,361.88 286.12,364.13 286.42,361.68 286.73,363.79 287.03,361.68 287.34,363.94 287.65,365.57 287.95,361.96 288.26,362.11 288.57,360.87 288.87,360.92 289.18,361.49 289.49,360.67 289.79,362.29 290.10,362.14 290.41,360.54 290.71,363.73 291.02,358.38 291.33,364.55 291.63,361.99 291.94,364.90 292.24,363.20 292.55,360.42 292.86,362.20 293.16,361.24 293.47,363.61 293.78,366.52 294.08,364.85 294.39,364.79 294.70,362.75 295.00,364.30 295.31,363.49 295.62,361.63 295.92,363.76 296.23,365.50 296.54,364.80 296.84,362.77 297.15,363.33 297.46,366.00 297.76,360.48 298.07,361.88 298.37,360.82 298.68,363.08 298.99,363.69 299.29,363.15 299.60,364.86 299.91,361.18 300.21,362.68 300.52,363.25 300.83,357.44 301.13,362.50 301.44,362.82 301.75,362.13 302.05,362.64 302.36,361.85 302.67,360.18 302.97,363.57 303.28,363.31 303.58,363.97 303.89,365.40 304.20,361.14 304.50,364.88 304.81,360.35 305.12,361.12 305.42,362.19 305.73,362.29 306.04,362.27 306.34,362.61 306.65,364.95 306.96,364.53 307.26,364.27 307.57,360.27 307.88,362.15 308.18,362.94 308.49,365.56 308.79,363.21 309.10,360.94 309.41,369.39 309.71,363.43 310.02,361.21 310.33,360.79 310.63,363.11 310.94,365.69 311.25,361.79 311.55,363.20 311.86,364.71 312.17,363.37 312.47,361.24 312.78,362.14 313.09,362.12 313.39,367.15 313.70,361.88 314.00,363.86 314.31,365.30 314.62,361.59 314.92,365.03 315.23,363.16 315.54,363.66 315.84,364.59 316.15,362.54 316.46,370.15 316.76,367.14 317.07,365.96 317.38,364.00 317.68,365.35 317.99,365.00 318.30,364.81 318.60,362.60 318.91,363.69 319.21,360.52 319.52,364.40 319.83,365.17 320.13,360.82 320.44,362.29 320.75,359.57 321.05,361.18 321.36,363.74 321.67,361.88 321.97,364.86 322.28,362.94 322.59,361.98 322.89,361.73 323.20,364.22 323.51,362.69 323.81,366.39 324.12,362.09 324.43,363.90 324.73,364.32 325.04,364.37 325.34,366.37 325.65,366.24 325.96,364.00 326.26,362.08 326.57,366.76 326.88,364.46 327.18,366.72 327.49,366.60 327.80,362.43 328.10,362.62 328.41,363.35 328.72,364.30 329.02,360.80 329.33,359.49 329.64,361.87 329.94,363.29 330.25,364.41 330.55,363.28 330.86,363.63 331.17,362.65 331.47,363.74 331.78,360.51 332.09,365.49 332.39,364.62 332.70,364.77" fill="none" stroke="#000" stroke-width="0.75" stroke-opacity="1.0" stroke-linejoin="round"/>
<polyline points="72.50,363.57 72.81,363.56 73.11,363.54 73.42,363.52 73.73,363.51 74.03,363.49 74.34,363.47 74.65,363.45 74.95,363.44 75.26,363.42 75.56,363.40 75.87,363.38 76.18,363.36 76.48,363.35 76.79,363.33 77.10,363.31 77.40,363.29 77.71,363.27 78.02,363.25 78.32,363.23 78.63,363.21 78.94,363.19 79.24,363.17 79.55,363.15 79.86,363.13 80.16,363.11 80.47,363.09 80.77,363.07 81.08,363.05 81.39,363.03 81.69,363.01 82.00,362.98 82.31,362.96 82.61,362.94 82.92,362.92 83.23,362.89 83.53,362.87 83.84,362.85 84.15,362.83 84.45,362.80 84.76,362.78 85.07,362.76 85.37,362.73 85.68,362.71 85.99,362.68 86.29,362.66 86.60,362.63 86.90,362.61 87.21,362.58 87.52,362.56 87.82,362.53 88.13,362.51 88.44,362.48 88.74,362.45 89.05,362.43 89.36,362.40 89.66,362.37 89.97,362.34 90.28,362.32 90.58,362.29 90.89,362.26 91.20,362.23 91.50,362.20 91.81,362.17 92.11,362.14 92.42,362.11 92.73,362.08 93.03,362.05 93.34,362.02 93.65,361.99 93.95,361.96 94.26,361.93 94.57,361.89 94.87,361.86 95.18,361.83 95.49,361.80 95.79,361.76 96.10,361.73 96.41,361.70 96.71,361.66 97.02,361.63 97.32,361.59 97.63,361.56 97.94,361.52 98.24,361.48 98.55,361.45 98.86,361.41 99.16,361.37 99.47,361.33 99.78,361.30 100.08,361.26 100.39,361.22 100.70,361.18 101.00,361.14 101.31,361.10 101.62,361.06 101.92,361.02 102.23,360.97 102.53,360.93 102.84,360.89 103.15,360.85 103.45,360.80 103.76,360.76 104.07,360.71 104.37,360.67 104.68,360.62 104.99,360.58 105.29,360.53 105.60,360.48 105.91,360.44 106.21,360.39 106.52,360.34 106.83,360.29 107.13,360.24 107.44,360.19 107.74,360.14 108.05,360.09 108.36,360.03 108.66,359.98 108.97,359.93 109.28,359.87 109.58,359.82 109.89,359.76 110.20,359.71 110.50,359.65 110.81,359.59 111.12,359.53 111.42,359.48 111.73,359.42 112.04,359.36 112.34,359.29 112.65,359.23 112.96,359.17 113.26,359.11 113.57,359.04 113.87,358.98 114.18,358.91 114.49,358.85 114.79,358.78 115.10,358.71 115.41,358.64 115.71,358.57 116.02,358.50 116.33,358.43 116.63,358.36 116.94,358.28 117.25,358.21 117.55,358.13 117.86,358.05 118.17,357.98 118.47,357.90 118.78,357.82 119.08,357.74 119.39,357.66 119.70,357.57 120.00,357.49 120.31,357.41 120.62,357.32 120.92,357.23 121.23,357.14 121.54,357.05 121.84,356.96 122.15,356.87 122.46,356.78 122.76,356.68 123.07,356.59 123.38,356.49 123.68,356.39 123.99,356.29 124.29,356.19 124.60,356.09 124.91,355.98 125.21,355.88 125.52,355.77 125.83,355.66 126.13,355.55 126.44,355.44 126.75,355.32 127.05,355.21 127.36,355.09 127.67,354.97 127.97,354.85 128.28,354.73 128.59,354.61 128.89,354.48 129.20,354.35 129.50,354.23 129.81,354.09 130.12,353.96 130.42,353.83 130.73,353.69 131.04,353.55 131.34,353.41 131.65,353.27 131.96,353.12 132.26,352.97 132.57,352.82 132.88,352.67 133.18,352.51 133.49,352.36 133.80,352.20 134.10,352.04 134.41,351.87 134.72,351.71 135.02,351.54 135.33,351.36 135.63,351.19 135.94,351.01 136.25,350.83 136.55,350.65 136.86,350.46 137.17,350.27 137.47,350.08 137.78,349.89 138.09,349.69 138.39,349.49 138.70,349.28 139.01,349.07 139.31,348.86 139.62,348.65 139.93,348.43 140.23,348.21 140.54,347.98 140.84,347.76 141.15,347.52 141.46,347.29 141.76,347.05 142.07,346.80 142.38,346.56 142.68,346.30 142.99,346.05 143.30,345.79 143.60,345.52 143.91,345.26 144.22,344.98 144.52,344.71 144.83,344.42 145.14,344.14 145.44,343.85 145.75,343.55 146.05,343.25 146.36,342.94 146.67,342.63 146.97,342.32 147.28,342.00 147.59,341.67 147.89,341.34 148.20,341.00 148.51,340.66 148.81,340.32 149.12,339.96 149.43,339.60 149.73,339.24 150.04,338.87 150.35,338.50 150.65,338.11 150.96,337.73 151.26,337.33 151.57,336.94 151.88,336.53 152.18,336.12 152.49,335.70 152.80,335.28 153.10,334.85 153.41,334.41 153.72,333.97 154.02,333.52 154.33,333.07 154.64,332.61 154.94,332.14 155.25,331.66 155.56,331.18 155.86,330.70 156.17,330.21 156.48,329.71 156.78,329.20 157.09,328.69 157.39,328.17 157.70,327.65 158.01,327.12 158.31,326.59 158.62,326.05 158.93,325.50 159.23,324.95 159.54,324.39 159.85,323.83 160.15,323.27 160.46,322.70 160.77,322.12 161.07,321.55 161.38,320.96 161.69,320.38 161.99,319.79 162.30,319.20 162.60,318.60 162.91,318.01 163.22,317.41 163.52,316.81 163.83,316.21 164.14,315.61 164.44,315.01 164.75,314.42 165.06,313.82 165.36,313.22 165.67,312.63 165.98,312.04 166.28,311.46 166.59,310.87 166.90,310.30 167.20,309.73 167.51,309.17 167.81,308.61 168.12,308.06 168.43,307.52 168.73,306.99 169.04,306.47 169.35,305.97 169.65,305.47 169.96,304.99 170.27,304.52 170.57,304.06 170.88,303.62 171.19,303.20 171.49,302.79 171.80,302.40 172.11,302.03 172.41,301.68 172.72,301.35 173.02,301.04 173.33,300.75 173.64,300.48 173.94,300.23 174.25,300.01 174.56,299.81 174.86,299.63 175.17,299.48 175.48,299.35 175.78,299.25 176.09,299.17 176.40,299.11 176.70,299.08 177.01,299.08 177.32,299.10 177.62,299.15 177.93,299.22 178.23,299.32 178.54,299.44 178.85,299.58 179.15,299.76 179.46,299.95 179.77,300.17 180.07,300.41 180.38,300.67 180.69,300.95 180.99,301.26 181.30,301.58 181.61,301.93 181.91,302.30 182.22,302.68 182.53,303.08 182.83,303.50 183.14,303.93 183.45,304.39 183.75,304.85 184.06,305.33 184.36,305.82 184.67,306.33 184.98,306.84 185.28,307.37 185.59,307.90 185.90,308.45 186.20,309.00 186.51,309.57 186.82,310.13 187.12,310.71 187.43,311.29 187.74,311.87 188.04,312.46 188.35,313.05 188.66,313.65 188.96,314.24 189.27,314.84 189.57,315.44 189.88,316.04 190.19,316.64 190.49,317.24 190.80,317.84 191.11,318.43 191.41,319.03 191.72,319.62 192.03,320.21 192.33,320.79 192.64,321.38 192.95,321.96 193.25,322.53 193.56,323.10 193.87,323.67 194.17,324.23 194.48,324.79 194.78,325.34 195.09,325.89 195.40,326.43 195.70,326.97 196.01,327.50 196.32,328.02 196.62,328.54 196.93,329.05 197.24,329.56 197.54,330.06 197.85,330.56 198.16,331.04 198.46,331.53 198.77,332.00 199.08,332.47 199.38,332.93 199.69,333.39 199.99,333.84 200.30,334.29 200.61,334.72 200.91,335.15 201.22,335.58 201.53,336.00 201.83,336.41 202.14,336.82 202.45,337.22 202.75,337.61 203.06,338.00 203.37,338.39 203.67,338.76 203.98,339.13 204.29,339.50 204.59,339.86 204.90,340.21 205.21,340.56 205.51,340.91 205.82,341.24 206.12,341.58 206.43,341.90 206.74,342.23 207.04,342.54 207.35,342.85 207.66,343.16 207.96,343.46 208.27,343.76 208.58,344.05 208.88,344.34 209.19,344.62 209.50,344.90 209.80,345.18 210.11,345.45 210.42,345.71 210.72,345.97 211.03,346.23 211.33,346.48 211.64,346.73 211.95,346.98 212.25,347.22 212.56,347.46 212.87,347.69 213.17,347.92 213.48,348.14 213.79,348.37 214.09,348.59 214.40,348.80 214.71,349.01 215.01,349.22 215.32,349.43 215.63,349.63 215.93,349.83 216.24,350.03 216.54,350.22 216.85,350.41 217.16,350.59 217.46,350.78 217.77,350.96 218.08,351.14 218.38,351.31 218.69,351.49 219.00,351.66 219.30,351.82 219.61,351.99 219.92,352.15 220.22,352.31 220.53,352.47 220.84,352.63 221.14,352.78 221.45,352.93 221.75,353.08 222.06,353.22 222.37,353.37 222.67,353.51 222.98,353.65 223.29,353.79 223.59,353.92 223.90,354.06 224.21,354.19 224.51,354.32 224.82,354.45 225.13,354.57 225.43,354.70 225.74,354.82 226.05,354.94 226.35,355.06 226.66,355.18 226.97,355.29 227.27,355.41 227.58,355.52 227.88,355.63 228.19,355.74 228.50,355.85 228.80,355.95 229.11,356.06 229.42,356.16 229.72,356.26 230.03,356.36 230.34,356.46 230.64,356.56 230.95,356.65 231.26,356.75 231.56,356.84 231.87,356.94 232.18,357.03 232.48,357.12 232.79,357.21 233.09,357.29 233.40,357.38 233.71,357.47 234.01,357.55 234.32,357.63 234.63,357.72 234.93,357.80 235.24,357.88 235.55,357.95 235.85,358.03 236.16,358.11 236.47,358.19 236.77,358.26 237.08,358.33 237.39,358.41 237.69,358.48 238.00,358.55 238.30,358.62 238.61,358.69 238.92,358.76 239.22,358.83 239.53,358.89 239.84,358.96 240.14,359.02 240.45,359.09 240.76,359.15 241.06,359.21 241.37,359.28 241.68,359.34 241.98,359.40 242.29,359.46 242.60,359.52 242.90,359.58 243.21,359.63 243.51,359.69 243.82,359.75 244.13,359.80 244.43,359.86 244.74,359.91 245.05,359.97 245.35,360.02 245.66,360.07 245.97,360.12 246.27,360.17 246.58,360.22 246.89,360.27 247.19,360.32 247.50,360.37 247.81,360.42 248.11,360.47 248.42,360.52 248.72,360.56 249.03,360.61 249.34,360.66 249.64,360.70 249.95,360.75 250.26,360.79 250.56,360.83 250.87,360.88 251.18,360.92 251.48,360.96 251.79,361.00 252.10,361.05 252.40,361.09 252.71,361.13 253.02,361.17 253.32,361.21 253.63,361.25 253.94,361.28 254.24,361.32 254.55,361.36 254.85,361.40 255.16,361.44 255.47,361.47 255.77,361.51 256.08,361.54 256.39,361.58 256.69,361.62 257.00,361.65 257.31,361.69 257.61,361.72 257.92,361.75 258.23,361.79 258.53,361.82 258.84,361.85 259.15,361.89 259.45,361.92 259.76,361.95 260.06,361.98 260.37,362.01 260.68,362.04 260.98,362.07 261.29,362.10 261.60,362.13 261.90,362.16 262.21,362.19 262.52,362.22 262.82,362.25 263.13,362.28 263.44,362.31 263.74,362.34 264.05,362.36 264.36,362.39 264.66,362.42 264.97,362.44 265.27,362.47 265.58,362.50 265.89,362.52 266.19,362.55 266.50,362.58 266.81,362.60 267.11,362.63 267.42,362.65 267.73,362.68 268.03,362.70 268.34,362.72 268.65,362.75 268.95,362.77 269.26,362.80 269.57,362.82 269.87,362.84 270.18,362.87 270.48,362.89 270.79,362.91 271.10,362.93 271.40,362.96 271.71,362.98 272.02,363.00 272.32,363.02 272.63,363.04 272.94,363.06 273.24,363.08 273.55,363.10 273.86,363.13 274.16,363.15 274.47,363.17 274.78,363.19 275.08,363.21 275.39,363.23 275.70,363.25 276.00,363.26 276.31,363.28 276.61,363.30 276.92,363.32 277.23,363.34 277.53,363.36 277.84,363.38 278.15,363.40 278.45,363.41 278.76,363.43 279.07,363.45 279.37,363.47 279.68,363.48 279.99,363.50 280.29,363.52 280.60,363.54 280.91,363.55 281.21,363.57 281.52,363.59 281.82,363.60 282.13,363.62 282.44,363.64 282.74,363.65 283.05,363.67 283.36,363.68 283.66,363.70 283.97,363.71 284.28,363.73 284.58,363.75 284.89,363.76 285.20,363.78 285.50,363.79 285.81,363.81 286.12,363.82 286.42,363.84 286.73,363.85 287.03,363.86 287.34,363.88 287.65,363.89 287.95,363.91 288.26,363.92 288.57,363.93 288.87,363.95 289.18,363.96 289.49,363.98 289.79,363.99 290.10,364.00 290.41,364.02 290.71,364.03 291.02,364.04 291.33,364.05 291.63,364.07 291.94,364.08 292.24,364.09 292.55,364.10 292.86,364.12 293.16,364.13 293.47,364.14 293.78,364.15 294.08,364.17 294.39,364.18 294.70,364.19 295.00,364.20 295.31,364.21 295.62,364.22 295.92,364.24 296.23,364.25 296.54,364.26 296.84,364.27 297.15,364.28 297.46,364.29 297.76,364.30 298.07,364.31 298.37,364.33 298.68,364.34 298.99,364.35 299.29,364.36 299.60,364.37 299.91,364.38 300.21,364.39 300.52,364.40 300.83,364.41 301.13,364.42 301.44,364.43 301.75,364.44 302.05,364.45 302.36,364.46 302.67,364.47 302.97,364.48 303.28,364.49 303.58,364.50 303.89,364.51 304.20,364.52 304.50,364.53 304.81,364.54 305.12,364.55 305.42,364.56 305.73,364.56 306.04,364.57 306.34,364.58 306.65,364.59 306.96,364.60 307.26,364.61 307.57,364.62 307.88,364.63 308.18,364.64 308.49,364.64 308.79,364.65 309.10,364.66 309.41,364.67 309.71,364.68 310.02,364.69 310.33,364.69 310.63,364.70 310.94,364.71 311.25,364.72 311.55,364.73 311.86,364.74 312.17,364.74 312.47,364.75 312.78,364.76 313.09,364.77 313.39,364.77 313.70,364.78 314.00,364.79 314.31,364.80 314.62,364.81 314.92,364.81 315.23,364.82 315.54,364.83 315.84,364.83 316.15,364.84 316.46,364.85 316.76,364.86 317.07,364.86 317.38,364.87 317.68,364.88 317.99,364.89 318.30,364.89 318.60,364.90 318.91,364.91 319.21,364.91 319.52,364.92 319.83,364.93 320.13,364.93 320.44,364.94 320.75,364.95 321.05,364.95 321.36,364.96 321.67,364.97 321.97,364.97 322.28,364.98 322.59,364.99 322.89,364.99 323.20,365.00 323.51,365.00 323.81,365.01 324.12,365.02 324.43,365.02 324.73,365.03 325.04,365.04 325.34,365.04 325.65,365.05 325.96,365.05 326.26,365.06 326.57,365.07 326.88,365.07 327.18,365.08 327.49,365.08 327.80,365.09 328.10,365.10 328.41,365.10 328.72,365.11 329.02,365.11 329.33,365.12 329.64,365.12 329.94,365.13 330.25,365.13 330.55,365.14 330.86,365.15 331.17,365.15 331.47,365.16 331.78,365.16 332.09,365.17 332.39,365.17 332.70,365.18" fill="none" stroke="#ff0000" stroke-width="1.0" stroke-opacity="1.0" stroke-linejoin="round"/></svg>
</body></html>
